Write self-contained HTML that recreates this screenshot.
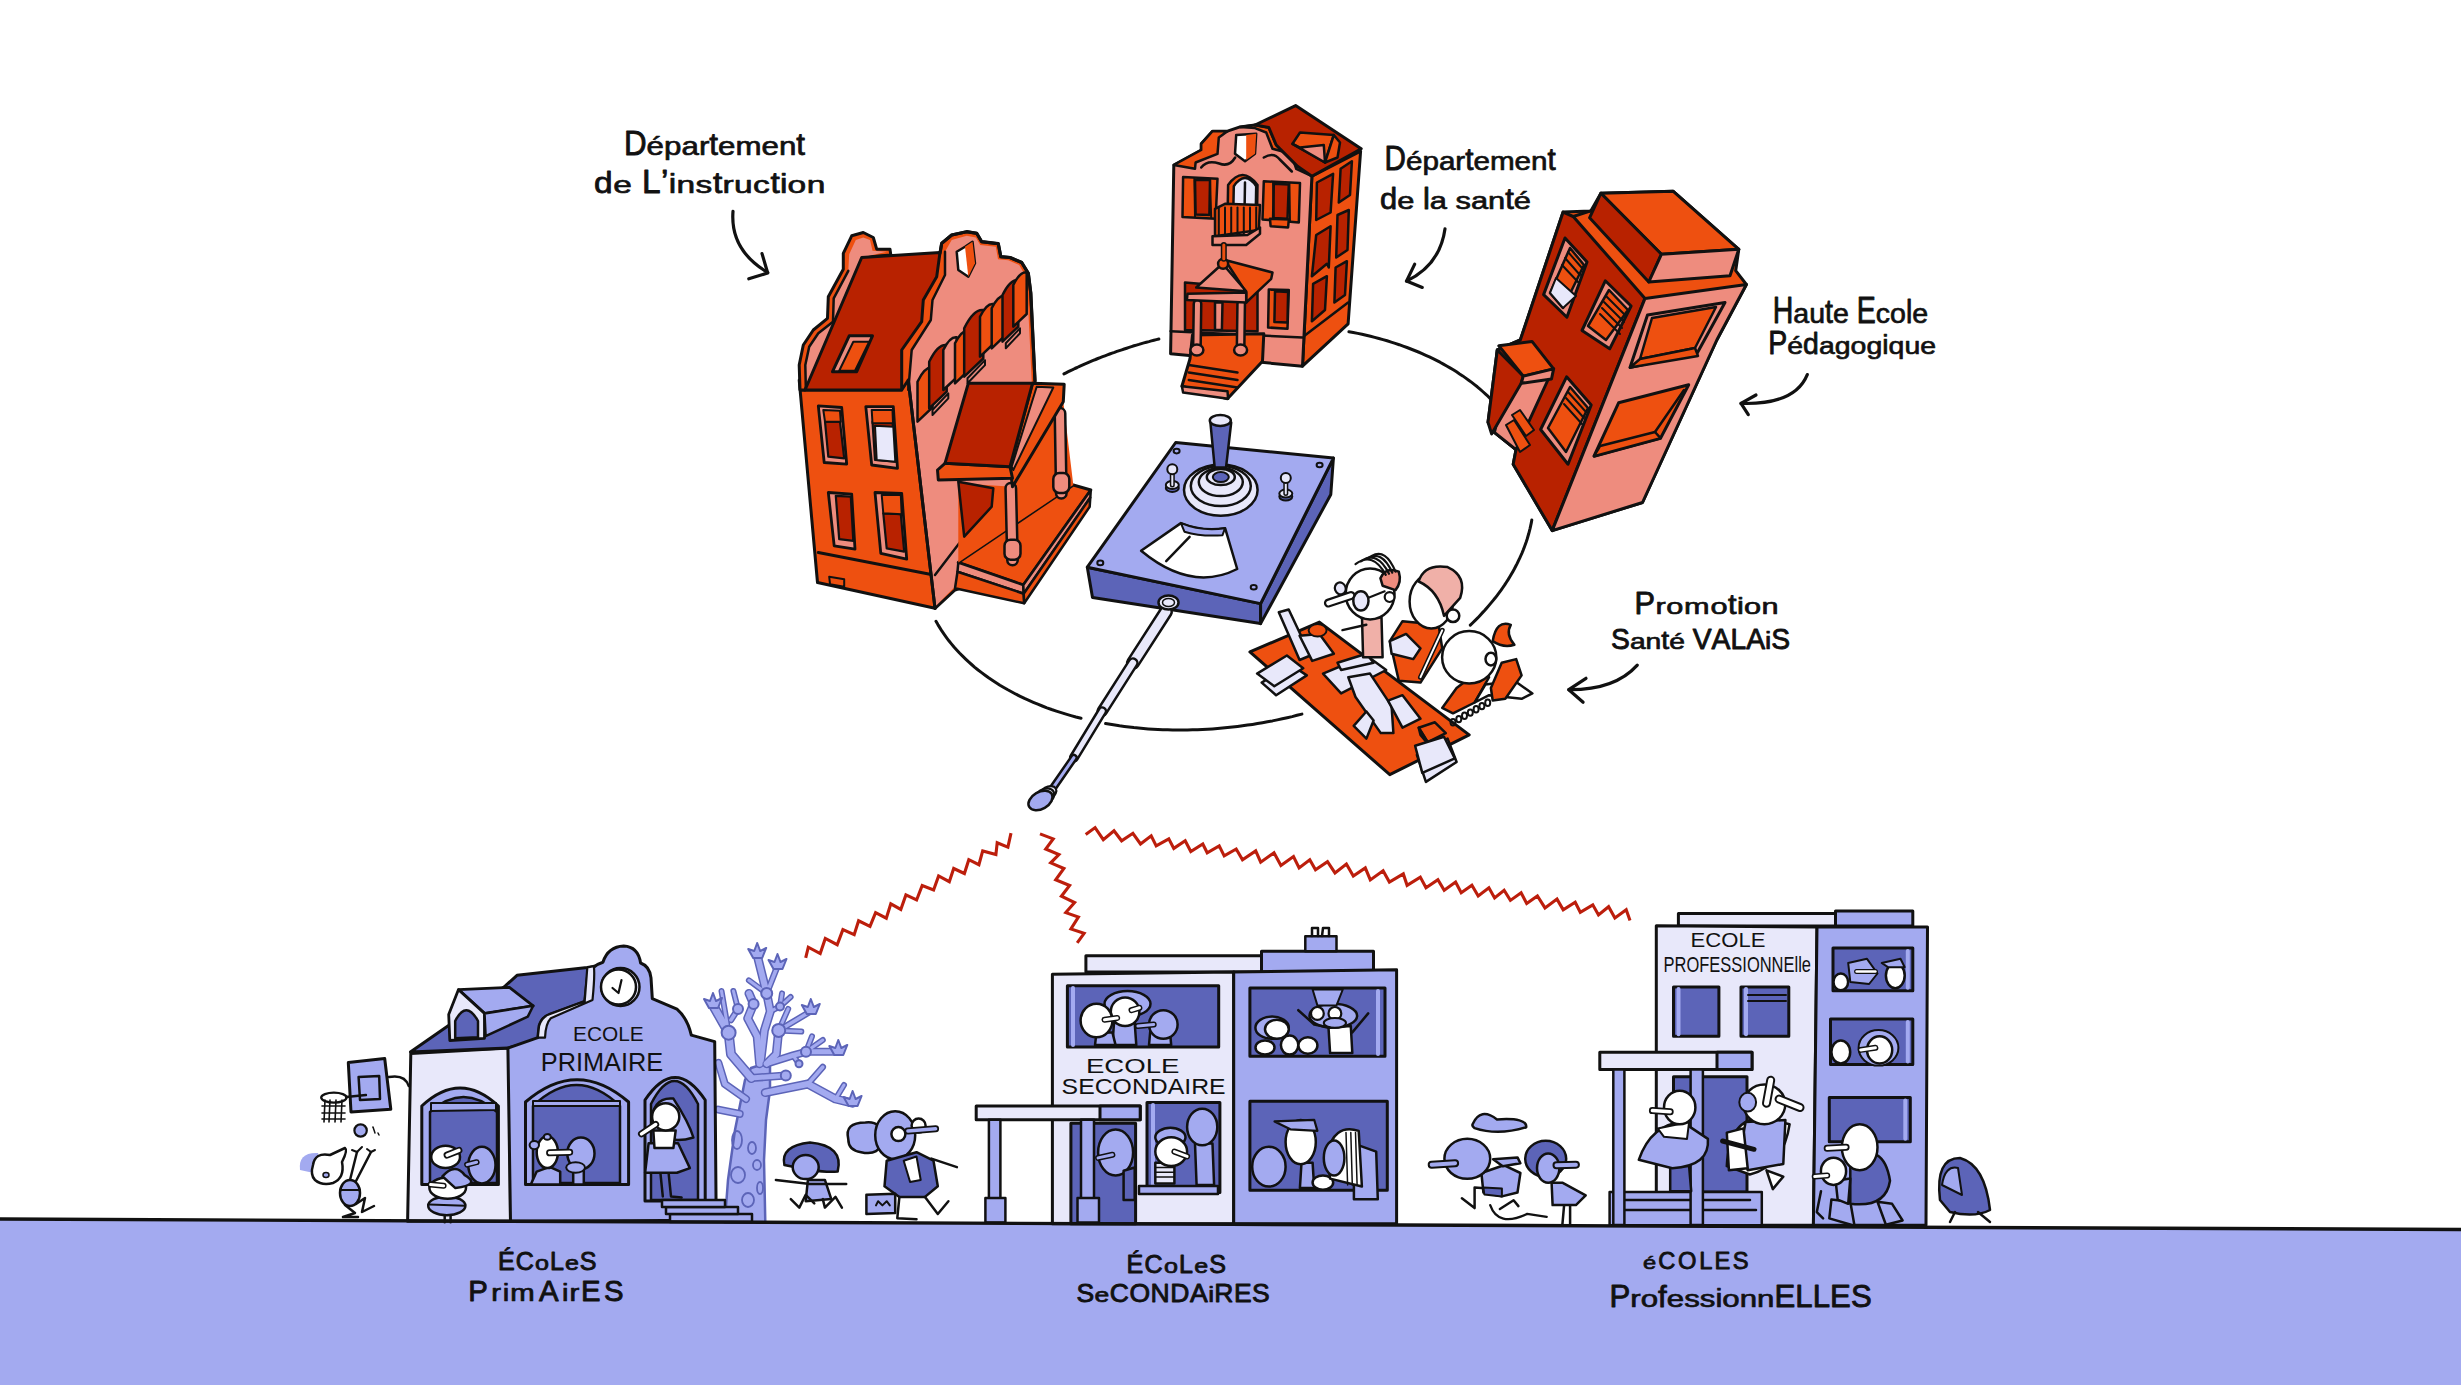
<!DOCTYPE html>
<html><head><meta charset="utf-8">
<style>
html,body{margin:0;padding:0;background:#fff;width:2461px;height:1385px;overflow:hidden}
svg{display:block}
</style></head><body>
<svg width="2461" height="1385" viewBox="0 0 2461 1385" stroke-linejoin="round" stroke-linecap="round">
<path d="M0 1219 L1230 1224.3 L2461 1229.5 L2461 1385 L0 1385 Z" fill="#A3AAF0"/>

<polyline points="1063.9,373.9 1066.1,372.8 1068.3,371.7 1070.5,370.6 1072.7,369.6 1074.9,368.5 1077.2,367.5 1079.5,366.4 1081.7,365.4 1084.0,364.4 1086.3,363.4 1088.6,362.4 1090.9,361.4 1093.2,360.4 1095.6,359.5 1097.9,358.5 1100.3,357.6 1102.6,356.7 1105.0,355.8 1107.4,354.9 1109.7,354.0 1112.1,353.1 1114.5,352.3 1116.9,351.4 1119.4,350.6 1121.8,349.8 1124.2,349.0 1126.7,348.2 1129.1,347.4 1131.5,346.6 1134.0,345.8 1136.5,345.1 1138.9,344.4 1141.4,343.6 1143.9,342.9 1146.4,342.2 1148.9,341.6 1151.4,340.9 1153.9,340.2 1156.4,339.6 1158.9,339.0" fill="none" stroke="#111" stroke-width="3"/>
<polyline points="1348.9,331.7 1353.3,332.5 1357.7,333.4 1362.0,334.3 1366.2,335.3 1370.5,336.3 1374.7,337.4 1378.9,338.5 1383.0,339.6 1387.1,340.8 1391.2,342.1 1395.2,343.4 1399.2,344.7 1403.1,346.1 1407.0,347.5 1410.8,349.0 1414.6,350.5 1418.4,352.0 1422.1,353.6 1425.8,355.3 1429.4,356.9 1433.0,358.7 1436.5,360.4 1440.0,362.2 1443.4,364.1 1446.7,366.0 1450.0,367.9 1453.3,369.8 1456.5,371.8 1459.6,373.9 1462.7,375.9 1465.8,378.1 1468.7,380.2 1471.7,382.4 1474.5,384.6 1477.3,386.8 1480.0,389.1 1482.7,391.5 1485.3,393.8 1487.9,396.2 1490.3,398.6" fill="none" stroke="#111" stroke-width="3"/>
<polyline points="1531.8,520.1 1531.3,522.9 1530.7,525.6 1530.1,528.3 1529.4,531.1 1528.7,533.8 1527.9,536.5 1527.1,539.2 1526.2,542.0 1525.2,544.7 1524.2,547.4 1523.2,550.1 1522.1,552.8 1520.9,555.5 1519.7,558.2 1518.4,560.9 1517.1,563.6 1515.7,566.3 1514.3,569.0 1512.8,571.7 1511.3,574.3 1509.7,577.0 1508.1,579.6 1506.4,582.2 1504.7,584.9 1502.9,587.5 1501.1,590.1 1499.2,592.7 1497.2,595.3 1495.3,597.8 1493.2,600.4 1491.1,602.9 1489.0,605.4 1486.8,608.0 1484.6,610.5 1482.3,612.9 1480.0,615.4 1477.7,617.9 1475.2,620.3 1472.8,622.7 1470.3,625.1" fill="none" stroke="#111" stroke-width="3"/>
<polyline points="1301.9,714.1 1297.0,715.3 1292.1,716.6 1287.2,717.7 1282.3,718.8 1277.3,719.9 1272.4,720.9 1267.4,721.8 1262.5,722.7 1257.5,723.6 1252.5,724.4 1247.5,725.1 1242.5,725.8 1237.5,726.5 1232.5,727.1 1227.5,727.6 1222.5,728.1 1217.5,728.5 1212.4,728.9 1207.4,729.2 1202.4,729.5 1197.5,729.7 1192.5,729.8 1187.5,729.9 1182.5,730.0 1177.6,730.0 1172.6,729.9 1167.7,729.8 1162.8,729.7 1157.9,729.5 1153.0,729.2 1148.2,728.9 1143.4,728.5 1138.5,728.0 1133.8,727.6 1129.0,727.0 1124.3,726.4 1119.5,725.8 1114.9,725.1 1110.2,724.3 1105.6,723.5" fill="none" stroke="#111" stroke-width="3"/>
<polyline points="1081.0,718.3 1075.9,717.0 1071.0,715.6 1066.0,714.1 1061.2,712.6 1056.4,711.1 1051.6,709.5 1046.9,707.8 1042.3,706.0 1037.8,704.2 1033.3,702.3 1028.9,700.4 1024.5,698.4 1020.2,696.3 1016.0,694.2 1011.9,692.0 1007.8,689.8 1003.8,687.5 999.9,685.2 996.1,682.8 992.3,680.3 988.6,677.8 985.1,675.2 981.6,672.6 978.1,670.0 974.8,667.3 971.6,664.5 968.4,661.7 965.4,658.8 962.4,655.9 959.5,653.0 956.7,650.0 954.0,647.0 951.4,643.9 948.9,640.8 946.5,637.6 944.2,634.4 942.0,631.2 939.9,627.9 937.9,624.6 936.0,621.3" fill="none" stroke="#111" stroke-width="3"/>

<g fill="none" stroke="#BC1E0C" stroke-width="3.1" stroke-linejoin="miter" stroke-linecap="butt">
<path d="M805.7 957.9 L808.3 947.2 L820.2 953.5 L825.3 938.4 L837.2 944.7 L842.9 929.6 L854.2 934.6 L858.6 920.8 L870.0 926.4 L875.6 912.6 L886.3 918.2 L890.8 903.8 L900.8 909.4 L905.9 894.9 L916.6 900.0 L922.2 885.5 L933.6 889.9 L938.6 876.0 L949.3 881.7 L953.7 868.5 L964.4 873.5 L968.8 859.7 L978.9 864.7 L982.7 850.9 L995.9 854.6 L997.2 842.7 L1007.9 847.1 L1011.0 833.2"/>
<path d="M1040.0 833.9 L1053.2 838.9 L1045.7 849.0 L1058.9 854.6 L1050.7 862.8 L1063.9 868.5 L1055.7 879.8 L1069.6 885.5 L1061.4 896.2 L1074.6 902.5 L1065.8 912.6 L1078.4 917.0 L1070.9 928.9 L1084.1 933.4 L1077.2 942.8"/>
<path d="M1085.7 834.5 L1095.1 827.6 L1103.3 839.6 L1114.0 830.7 L1121.6 840.8 L1132.9 833.3 L1140.5 844.0 L1151.2 835.8 L1156.2 845.9 L1168.8 838.9 L1173.8 848.4 L1185.2 840.8 L1190.8 851.5 L1202.8 844.0 L1207.2 852.8 L1219.2 845.9 L1224.2 855.9 L1236.2 849.0 L1242.5 859.7 L1255.7 850.9 L1260.7 862.2 L1274.0 852.8 L1280.9 865.4 L1293.5 856.6 L1299.1 867.9 L1309.8 859.7 L1315.5 869.8 L1327.5 861.6 L1335.0 872.9 L1346.4 864.1 L1353.3 876.1 L1365.3 867.9 L1370.3 879.9 L1383.1 870.8 L1389.4 882.1 L1403.3 873.9 L1407.1 885.3 L1420.3 877.1 L1426.0 887.8 L1437.9 879.6 L1444.2 890.3 L1455.6 882.1 L1461.2 892.8 L1471.9 885.3 L1478.2 896.0 L1488.9 887.8 L1494.6 897.9 L1504.1 890.3 L1510.4 900.4 L1521.1 892.8 L1526.7 903.5 L1537.4 896.0 L1545.0 907.9 L1557.0 899.1 L1563.2 909.8 L1575.2 902.3 L1580.3 912.3 L1592.8 904.8 L1598.5 914.9 L1608.6 906.7 L1614.9 918.0 L1626.2 909.8 L1630.0 920.5"/>
</g>

<g id="b1">
<polygon points="940.0,253.3 941.7,243.3 951.7,235.0 966.7,231.7 976.7,233.3 981.7,241.7 998.3,243.7 1000.8,256.7 1010.0,257.5 1021.7,262.5 1028.3,273.3 1030.8,293.3 1035.0,380.8 1040.0,470.0 1045.0,560.0 955.0,590.0 935.0,608.3" fill="#EE5010" stroke="#111" stroke-width="3"/>
<polygon points="945.0,251.7 951.7,240.0 966.7,235.8 975.8,237.5 980.3,245.0 995.8,246.7 998.0,259.2 1008.3,260.3 1019.2,265.0 1025.0,275.0 1027.5,293.3 1031.7,380.8 1028.0,470.0 1040.0,560.0 953.3,588.3 935.0,606.7 908.3,380.0 908.3,390.0 911.7,350.0 930.8,320.0 932.5,300.0 945.0,275.0" fill="#EE8C7E"/>
<polygon points="940.0,252.5 936.7,276.7 923.3,300.0 921.7,321.7 901.7,350.0 901.7,390.0 908.3,390.0 911.7,350.0 930.8,320.0 932.5,300.0 945.0,275.0 945.0,251.7" fill="#EE5010"/>
<polygon points="800.0,390.0 901.7,390.0 908.3,380.0 935.0,608.3 817.5,582.5 799.2,380.0" fill="#EE5010" stroke="#111" stroke-width="3"/>
<polygon points="800.0,390.0 799.2,365.0 803.3,345.0 813.3,330.0 827.5,318.3 828.3,296.7 843.3,269.2 843.3,253.3 851.7,235.8 863.3,232.5 873.3,237.5 876.7,249.2 890.0,249.2 890.8,255.0 861.7,257.5 805.0,390.0" fill="#EE5010" stroke="#111" stroke-width="3"/>
<polygon points="805.8,386.7 805.3,365.0 809.2,346.7 818.3,333.3 833.0,321.7 833.7,298.3 848.3,270.8 849.2,254.2 855.8,240.0 863.3,237.5 870.0,240.0 872.5,250.8 886.7,251.7 861.7,257.5 805.0,390.0" fill="#EE8C7E"/>
<polygon points="805.0,390.0 861.7,257.5 940.0,252.5 936.7,276.7 923.3,300.0 921.7,321.7 901.7,350.0 901.7,390.0" fill="#B82200" stroke="#111" stroke-width="3"/>
<polygon points="849.2,335.8 872.5,335.8 856.7,371.7 832.5,371.7" fill="#EE8C7E" stroke="#111" stroke-width="3"/>
<polygon points="853.3,341.7 869.2,341.7 855.0,370.8 839.2,370.8" fill="#EE5010" stroke="#111" stroke-width="2"/>
<polyline points="940.0,253.3 941.7,243.3 951.7,235.0 966.7,231.7 976.7,233.3 981.7,241.7 998.3,243.7 1000.8,256.7 1010.0,257.5 1021.7,262.5 1028.3,273.3 1030.8,293.3 1035.0,380.8" fill="none" stroke="#111" stroke-width="3.2"/>
<polyline points="945.0,251.7 945.0,275.0 932.5,300.0 930.8,320.0 911.7,350.0 908.3,390.0" fill="none" stroke="#111" stroke-width="2.5"/>
<polyline points="908.3,380.0 935.0,608.3" fill="none" stroke="#111" stroke-width="3"/>
<polyline points="848.3,270.8 833.7,298.3 833.0,321.7 818.3,333.3 809.2,346.7 805.3,365.0 805.8,386.7" fill="none" stroke="#111" stroke-width="2.5"/>
<polygon points="956.7,251.7 965.0,246.7 972.5,241.7 975.0,263.3 968.3,276.7 958.3,270.0" fill="#fff" stroke="#111" stroke-width="2.5"/>
<polygon points="965.0,246.7 972.5,241.7 975.0,263.3 968.3,276.7" fill="#EE5010"/>
<path d="M917.5 421.7 L917.5 381.7 Q925.0 366.3 932.5 367.4 L932.5 407.4 Z" fill="#EE5010" stroke="#111" stroke-width="2.5"/>
<path d="M929.2 408.3 L929.2 361.7 Q937.9 343.7 946.7 345.0 L946.7 391.7 Z" fill="#B82200" stroke="#111" stroke-width="2.5"/>
<path d="M943.3 390.0 L943.3 350.0 Q950.0 336.3 956.7 337.3 L956.7 377.3 Z" fill="#EE8C7E" stroke="#111" stroke-width="2.5"/>
<polygon points="932.5,410.0 948.3,393.4 948.3,398.4 932.5,415.0" fill="#EE8C7E" stroke="#111" stroke-width="2"/>
<path d="M955.0 383.3 L955.0 343.3 Q961.7 329.7 968.3 330.7 L968.3 370.7 Z" fill="#EE5010" stroke="#111" stroke-width="2.5"/>
<path d="M964.2 376.7 L964.2 328.3 Q973.8 308.7 983.3 310.1 L983.3 358.5 Z" fill="#B82200" stroke="#111" stroke-width="2.5"/>
<path d="M980.0 356.7 L980.0 316.7 Q986.7 303.0 993.3 304.0 L993.3 344.0 Z" fill="#EE5010" stroke="#111" stroke-width="2.5"/>
<polygon points="967.5,378.3 985.0,360.1 985.0,365.1 967.5,383.3" fill="#EE8C7E" stroke="#111" stroke-width="2"/>
<path d="M991.7 348.3 L991.7 308.3 Q998.3 294.7 1005.0 295.7 L1005.0 335.7 Z" fill="#EE5010" stroke="#111" stroke-width="2.5"/>
<path d="M1002.5 341.7 L1002.5 295.0 Q1010.4 278.8 1018.3 280.0 L1018.3 326.6 Z" fill="#B82200" stroke="#111" stroke-width="2.5"/>
<path d="M1013.3 326.7 L1013.3 285.0 Q1020.0 271.3 1026.7 272.3 L1026.7 314.0 Z" fill="#EE5010" stroke="#111" stroke-width="2.5"/>
<polygon points="1005.8,343.3 1020.0,328.3 1020.0,333.3 1005.8,348.3" fill="#EE8C7E" stroke="#111" stroke-width="2"/>
<polygon points="818.3,405.8 841.7,407.5 846.7,464.2 824.2,462.5" fill="#EE8C7E" stroke="#111" stroke-width="2.8"/>
<polygon points="825.0,421.7 840.0,421.7 844.2,458.3 828.3,456.7" fill="#B82200" stroke="#111" stroke-width="2.2"/>
<polygon points="823.3,410.0 840.0,410.8 840.8,421.7 825.0,421.7" fill="#EE5010" stroke="#111" stroke-width="2"/>
<polygon points="865.8,406.7 893.3,406.7 897.5,468.3 871.7,465.0" fill="#EE8C7E" stroke="#111" stroke-width="2.8"/>
<polygon points="872.5,421.7 892.5,421.7 895.8,461.7 875.0,460.0" fill="#B82200" stroke="#111" stroke-width="2.2"/>
<polygon points="875.0,425.8 893.3,426.7 895.3,461.7 876.7,460.0" fill="#E8E8FA" stroke="#111" stroke-width="2"/>
<polygon points="871.7,410.0 892.5,410.0 893.0,423.3 872.5,423.3" fill="#EE5010" stroke="#111" stroke-width="2"/>
<polygon points="828.3,492.5 851.7,494.2 855.0,549.2 834.2,545.8" fill="#EE8C7E" stroke="#111" stroke-width="2.8"/>
<polygon points="835.8,495.8 850.8,496.7 853.3,540.8 839.2,539.2" fill="#B82200" stroke="#111" stroke-width="2.2"/>
<polygon points="875.0,492.5 901.7,493.3 906.7,559.2 880.8,553.3" fill="#EE8C7E" stroke="#111" stroke-width="2.8"/>
<polygon points="883.3,513.3 900.8,514.2 904.2,551.7 886.7,548.3" fill="#B82200" stroke="#111" stroke-width="2.2"/>
<polygon points="881.7,495.0 900.8,495.0 901.7,514.2 883.3,513.3" fill="#EE5010" stroke="#111" stroke-width="2"/>
<polyline points="818.3,552.5 930.0,574.2" fill="none" stroke="#111" stroke-width="3"/>
<polyline points="935.0,575.0 964.2,536.7" fill="none" stroke="#111" stroke-width="2.5"/>
<polygon points="829.2,576.7 844.2,579.2 844.2,586.7 830.0,584.2" fill="#EE5010" stroke="#111" stroke-width="2"/>
<polygon points="958.3,562.5 1073.3,485.0 1090.8,490.0 1023.3,585.0" fill="#EE5010" stroke="#111" stroke-width="3"/>
<polygon points="958.3,562.5 1023.3,585.0 1023.7,593.7 957.5,571.7" fill="#EE8C7E" stroke="#111" stroke-width="2.5"/>
<polygon points="957.5,571.7 1023.7,593.7 1024.2,603.3 955.0,588.3" fill="#EE5010" stroke="#111" stroke-width="2.5"/>
<polygon points="1023.3,585.0 1090.8,490.0 1090.3,497.5 1023.7,593.7" fill="#EE8C7E" stroke="#111" stroke-width="2.5"/>
<polygon points="1023.7,593.7 1090.3,497.5 1089.7,506.7 1024.2,603.3" fill="#EE5010" stroke="#111" stroke-width="2.5"/>
<polygon points="958.3,483.3 1012.5,486.7 1063.3,401.7 1073.3,485.0 958.3,562.5" fill="#EE5010"/>
<polygon points="958.3,481.7 993.3,488.3 991.7,506.7 964.2,536.7" fill="#B82200" stroke="#111" stroke-width="2.5"/>
<polyline points="1010.8,488.3 1012.5,560.0" fill="none" stroke="#111" stroke-width="13"/>
<polyline points="1010.8,488.3 1012.5,560.0" fill="none" stroke="#EE8C7E" stroke-width="8"/>
<rect x="1004.5" y="539.7" width="16" height="20" rx="6" fill="#EE8C7E" stroke="#111" stroke-width="2.5"/>
<polyline points="1060.0,413.3 1061.3,493.3" fill="none" stroke="#111" stroke-width="13"/>
<polyline points="1060.0,413.3 1061.3,493.3" fill="none" stroke="#EE8C7E" stroke-width="8"/>
<rect x="1053.3" y="473.0" width="16" height="20" rx="6" fill="#EE8C7E" stroke="#111" stroke-width="2.5"/>
<polygon points="1032.5,383.3 1064.2,384.2 1063.3,401.7 1012.5,486.7 1010.0,466.7" fill="#EE5010" stroke="#111" stroke-width="3"/>
<polygon points="1036.7,386.7 1053.3,387.5 1013.3,470.0 1011.7,466.7" fill="#EE8C7E" stroke="#111" stroke-width="2"/>
<polygon points="937.5,470.0 945.0,463.3 1010.0,466.7 1012.5,478.3 938.3,480.0" fill="#EE5010" stroke="#111" stroke-width="3"/>
<polygon points="968.3,383.3 1032.5,383.3 1010.0,466.7 945.0,463.3" fill="#B82200" stroke="#111" stroke-width="3"/>
</g>

<g id="b2">
<polygon points="1311.9,176.2 1360.6,151.2 1348.1,323.8 1302.5,366.2" fill="#EE5010" stroke="#111" stroke-width="3" />
<polyline points="1303.8,336.2 1348.1,302.5" fill="none" stroke="#111" stroke-width="2.5"/>
<polygon points="1316.9,182.5 1333.1,173.8 1330.6,212.5 1316.2,220.0" fill="#B82200" stroke="#111" stroke-width="2.5" />
<polygon points="1340.6,168.8 1351.9,161.2 1350.0,195.0 1338.8,202.5" fill="#B82200" stroke="#111" stroke-width="2.5" />
<polygon points="1316.2,235.0 1330.6,226.2 1328.8,267.5 1326.9,263.8 1311.9,276.2" fill="#B82200" stroke="#111" stroke-width="2.5" />
<polygon points="1337.5,215.0 1348.8,210.0 1347.5,250.0 1336.2,257.5" fill="#B82200" stroke="#111" stroke-width="2.5" />
<polygon points="1313.1,283.8 1326.9,276.2 1325.0,310.0 1311.9,321.2" fill="#B82200" stroke="#111" stroke-width="2.5" />
<polygon points="1335.6,267.5 1346.9,261.2 1345.0,295.0 1334.4,302.5" fill="#B82200" stroke="#111" stroke-width="2.5" />
<polygon points="1173.8,165.0 1201.2,150.0 1201.2,143.8 1212.5,131.2 1227.5,131.2 1240.0,126.9 1255.0,125.0 1268.8,127.5 1276.2,145.0 1297.5,166.2 1311.2,168.8 1311.9,176.2 1302.5,366.2 1170.6,353.8" fill="#EE8C7E" stroke="#111" stroke-width="3" />
<polygon points="1173.8,165.0 1201.2,150.0 1201.2,143.8 1212.5,131.2 1227.5,131.2 1218.8,137.5 1217.5,153.8 1195.6,162.5 1195.0,168.8" fill="#EE5010" stroke="#111" stroke-width="2.5" />
<polygon points="1240.0,126.9 1255.0,125.0 1268.8,127.5 1276.2,145.0 1297.5,166.2 1311.2,168.8 1311.9,176.2 1296.2,168.8 1291.2,153.8 1272.5,148.8 1266.2,132.5 1255.0,128.1" fill="#EE5010" stroke="#111" stroke-width="2.5" />
<polygon points="1255.0,125.0 1295.6,105.6 1361.2,148.8 1311.9,176.2 1297.5,166.2 1276.2,145.0 1268.8,127.5" fill="#B82200" stroke="#111" stroke-width="3" />
<polygon points="1292.5,143.8 1300.0,132.5 1333.8,135.0 1325.0,162.5" fill="#EE5010" stroke="#111" stroke-width="2.5" />
<polygon points="1292.5,143.8 1325.0,162.5 1323.8,145.0 1300.0,147.5" fill="#EE8C7E" stroke="#111" stroke-width="2.5" />
<polygon points="1325.0,162.5 1333.8,135.0 1340.0,142.5 1337.5,157.5" fill="#EE5010" stroke="#111" stroke-width="2.5" />
<polygon points="1236.2,135.0 1256.2,133.8 1255.0,153.8 1245.0,161.2 1235.0,153.8" fill="#fff" stroke="#111" stroke-width="2.5" />
<polygon points="1246.2,135.0 1256.2,133.8 1255.0,153.8 1246.2,160.0" fill="#EE5010" />
<path d="M1201.2 167.5 q 6 -8 18 -4 q 10 4 16 -6" fill="none" stroke="#111" stroke-width="2.5"/>
<path d="M1263.8 157.5 q 10 -6 16 2 q 8 8 12 12" fill="none" stroke="#111" stroke-width="2.5"/>
<polygon points="1183.1,176.9 1217.5,178.8 1215.6,218.8 1182.5,216.9" fill="#EE5010" stroke="#111" stroke-width="2.5" />
<polygon points="1195.0,180.0 1210.0,180.0 1209.4,215.0 1195.6,214.4" fill="#B82200" stroke="#111" stroke-width="2.5" />
<polyline points="1194.4,178.8 1195.0,216.9" fill="none" stroke="#111" stroke-width="2"/>
<polyline points="1210.0,179.4 1211.2,218.1" fill="none" stroke="#111" stroke-width="2"/>
<polygon points="1263.8,181.2 1300.0,183.1 1298.8,222.5 1262.5,219.4" fill="#EE5010" stroke="#111" stroke-width="2.5" />
<polygon points="1273.8,183.8 1288.8,184.4 1287.5,218.8 1273.1,218.1" fill="#B82200" stroke="#111" stroke-width="2.5" />
<polyline points="1273.1,181.9 1273.8,220.0" fill="none" stroke="#111" stroke-width="2"/>
<polyline points="1289.4,183.1 1290.0,221.9" fill="none" stroke="#111" stroke-width="2"/>
<polygon points="1270.0,218.8 1288.8,219.4 1288.1,227.5 1270.6,226.2" fill="#EE5010" stroke="#111" stroke-width="2.5" />
<path d="M1227.5 220.0 L1228.1 185.0 Q1242.5 165.0 1257.5 185.0 L1256.9 220.0 Z" fill="#EE5010" stroke="#111" stroke-width="2.5"/>
<path d="M1233.1 220.0 L1233.8 186.2 Q1245.0 170.0 1256.2 186.2 L1255.6 220.0 Z" fill="#E8E8FA" stroke="#111" stroke-width="2.5"/>
<polyline points="1245.0,182.5 1244.4,220.0" fill="none" stroke="#111" stroke-width="2.5"/>
<polygon points="1215.0,208.8 1225.0,203.8 1260.0,205.0 1258.8,230.0 1215.0,236.2" fill="#EE5010" stroke="#111" stroke-width="2.5" />
<polyline points="1218.8,207.5 1218.8,235.0" fill="none" stroke="#111" stroke-width="2"/>
<polyline points="1225.0,207.5 1225.0,235.0" fill="none" stroke="#111" stroke-width="2"/>
<polyline points="1231.2,207.5 1231.2,235.0" fill="none" stroke="#111" stroke-width="2"/>
<polyline points="1237.5,207.5 1237.5,235.0" fill="none" stroke="#111" stroke-width="2"/>
<polyline points="1243.8,207.5 1243.8,235.0" fill="none" stroke="#111" stroke-width="2"/>
<polyline points="1250.0,207.5 1250.0,235.0" fill="none" stroke="#111" stroke-width="2"/>
<polyline points="1256.2,207.5 1256.2,235.0" fill="none" stroke="#111" stroke-width="2"/>
<polygon points="1212.5,236.2 1247.5,235.0 1260.0,227.5 1260.0,233.8 1246.2,245.0 1212.5,245.0" fill="#EE8C7E" stroke="#111" stroke-width="2.5" />
<polyline points="1170.6,331.2 1302.5,337.5" fill="none" stroke="#111" stroke-width="2.5"/>
<polygon points="1185.0,282.5 1257.5,288.8 1257.5,331.2 1185.0,330.0" fill="#B82200" stroke="#111" stroke-width="2.5" />
<polygon points="1215.0,302.5 1222.5,302.5 1221.9,330.0 1215.0,330.0" fill="#EE8C7E" stroke="#111" stroke-width="2.5" />
<polygon points="1268.8,289.4 1288.8,290.0 1287.5,328.8 1268.1,327.5" fill="#EE5010" stroke="#111" stroke-width="2.5" />
<polygon points="1275.0,291.2 1288.1,291.9 1287.5,322.5 1274.4,321.9" fill="#B82200" stroke="#111" stroke-width="2.5" />
<polygon points="1181.9,386.2 1190.0,358.8 1192.5,335.0 1263.8,333.8 1262.5,361.2 1227.5,398.8" fill="#EE5010" stroke="#111" stroke-width="3" />
<polyline points="1188.8,365.0 1237.5,372.5" fill="none" stroke="#111" stroke-width="2.5"/>
<polyline points="1188.8,372.5 1237.5,380.0" fill="none" stroke="#111" stroke-width="2.5"/>
<polyline points="1188.8,380.0 1237.5,387.5" fill="none" stroke="#111" stroke-width="2.5"/>
<polygon points="1181.9,386.2 1227.5,391.2 1228.1,398.8 1183.1,392.5" fill="#EE8C7E" stroke="#111" stroke-width="2.5" />
<polyline points="1197.5,303.8 1196.9,347.5" fill="none" stroke="#111" stroke-width="10"/>
<polyline points="1197.5,303.8 1196.9,347.5" fill="none" stroke="#EE8C7E" stroke-width="5"/>
<ellipse cx="1196.9" cy="350.0" rx="6.5" ry="5.5" fill="#EE8C7E" stroke="#111" stroke-width="2.5"/>
<polyline points="1241.2,303.8 1240.6,347.5" fill="none" stroke="#111" stroke-width="10"/>
<polyline points="1241.2,303.8 1240.6,347.5" fill="none" stroke="#EE8C7E" stroke-width="5"/>
<ellipse cx="1240.6" cy="350.0" rx="6.5" ry="5.5" fill="#EE8C7E" stroke="#111" stroke-width="2.5"/>
<polygon points="1225.0,260.0 1272.5,272.5 1271.2,278.8 1246.2,302.5 1246.2,292.5" fill="#EE5010" stroke="#111" stroke-width="2.5" />
<polygon points="1187.5,293.8 1246.2,292.5 1246.2,302.5 1186.9,300.0" fill="#EE8C7E" stroke="#111" stroke-width="2.5" />
<polygon points="1196.2,287.5 1222.5,263.8 1246.2,291.2" fill="#EE8C7E" stroke="#111" stroke-width="2.5" />
<circle cx="1223.1" cy="263.8" r="5" fill="#EE5010" stroke="#111" stroke-width="2.5"/>
<polyline points="1223.8,258.8 1223.8,245.0" fill="none" stroke="#111" stroke-width="6"/>
<polyline points="1223.8,258.8 1223.8,245.0" fill="none" stroke="#EE5010" stroke-width="3"/>
</g>

<g id="b3">
<polygon points="1563.1,212.1 1590.8,210.9 1600.9,193.2 1673.3,191.3 1738.8,249.3 1735.7,270.7 1746.4,284.5 1716.8,340.0 1642.5,502.5 1552.2,530.6 1513.2,464.2 1516.0,449.7 1494.4,432.4 1488.0,422.3 1497.3,350.0 1520.3,340.0" fill="#EE5010" stroke="#111" stroke-width="3" />
<polygon points="1563.1,212.1 1573.2,216.5 1645.0,298.4 1552.2,530.6 1513.2,464.2 1516.0,449.7 1494.4,432.4 1497.3,350.0 1520.3,340.0" fill="#B82200" stroke="#111" stroke-width="3" />
<polygon points="1645.0,298.4 1746.4,284.5 1716.8,340.0 1642.5,502.5 1552.2,530.6" fill="#EE8C7E" stroke="#111" stroke-width="3" />
<polyline points="1573.2,216.5 1590.8,210.9" fill="none" stroke="#111" stroke-width="3"/>
<polygon points="1600.9,193.2 1673.3,191.3 1738.8,249.3 1661.4,254.3" fill="#EE5010" stroke="#111" stroke-width="3" />
<polygon points="1600.9,193.2 1589.6,217.8 1648.8,282.0 1661.4,254.3" fill="#B82200" stroke="#111" stroke-width="3" />
<polygon points="1661.4,254.3 1738.8,249.3 1730.0,275.7 1648.8,282.0" fill="#EE8C7E" stroke="#111" stroke-width="3" />
<polygon points="1647.5,315.0 1725.0,302.5 1697.5,352.5 1630.0,367.5" fill="#EE8C7E" stroke="#111" stroke-width="3" />
<polygon points="1652.0,318.0 1716.0,307.0 1695.0,348.0 1640.0,359.0" fill="#EE5010" stroke="#111" stroke-width="2.5" />
<polygon points="1630.0,367.5 1640.0,359.0 1695.0,348.0 1698.0,355.9" fill="#EE5010" stroke="#111" stroke-width="2.5" />
<polygon points="1618.6,402.8 1688.7,384.8 1660.5,438.2 1594.0,456.2" fill="#EE5010" stroke="#111" stroke-width="3" />
<polygon points="1594.0,456.2 1600.0,446.0 1655.0,432.0 1660.5,438.2" fill="#EE5010" stroke="#111" stroke-width="2.5" />
<polyline points="1655.0,432.0 1684.0,390.0" fill="none" stroke="#111" stroke-width="2.5"/>
<polygon points="1565.0,238.0 1587.0,261.9 1566.9,317.3 1543.6,294.6" fill="#EE8C7E" stroke="#111" stroke-width="3" />
<polygon points="1570.0,248.0 1584.0,265.0 1563.0,308.0 1550.0,293.0" fill="#EE5010" stroke="#111" stroke-width="2.5" />
<polygon points="1556.0,278.0 1576.0,296.0 1563.0,308.0 1550.0,293.0" fill="#E8E8FA" stroke="#111" stroke-width="2" />
<polyline points="1568.0,252.0 1582.0,268.0" fill="none" stroke="#111" stroke-width="2"/>
<polyline points="1565.0,258.0 1580.0,275.0" fill="none" stroke="#111" stroke-width="2"/>
<polyline points="1562.0,265.0 1578.0,282.0" fill="none" stroke="#111" stroke-width="2"/>
<polygon points="1605.3,280.8 1631.1,306.0 1609.7,348.8 1582.0,330.5" fill="#EE8C7E" stroke="#111" stroke-width="3" />
<polygon points="1609.0,290.0 1628.0,310.0 1606.0,340.0 1588.0,326.0" fill="#EE5010" stroke="#111" stroke-width="2.5" />
<polyline points="1606.0,296.0 1626.0,316.0" fill="none" stroke="#111" stroke-width="2"/>
<polyline points="1604.0,302.0 1624.0,322.0" fill="none" stroke="#111" stroke-width="2"/>
<polyline points="1602.0,308.0 1622.0,328.0" fill="none" stroke="#111" stroke-width="2"/>
<polyline points="1600.0,314.0 1620.0,334.0" fill="none" stroke="#111" stroke-width="2"/>
<polygon points="1566.6,376.8 1591.2,405.0 1568.0,464.2 1540.6,429.5" fill="#EE8C7E" stroke="#111" stroke-width="3" />
<polygon points="1570.0,387.0 1588.0,408.0 1566.0,452.0 1548.0,428.0" fill="#EE5010" stroke="#111" stroke-width="2.5" />
<polyline points="1568.0,392.0 1586.0,412.0" fill="none" stroke="#111" stroke-width="2"/>
<polyline points="1566.0,398.0 1584.0,418.0" fill="none" stroke="#111" stroke-width="2"/>
<polyline points="1564.0,404.0 1582.0,424.0" fill="none" stroke="#111" stroke-width="2"/>
<polygon points="1508.9,371.8 1547.9,380.0 1516.0,449.7 1494.4,432.4" fill="#EE8C7E" stroke="#111" stroke-width="3" />
<polygon points="1497.3,350.0 1523.3,376.1 1521.2,383.3 1491.6,433.9 1488.0,422.3" fill="#B82200" stroke="#111" stroke-width="3" />
<polygon points="1498.8,345.8 1532.0,341.4 1553.6,368.9 1523.3,376.1" fill="#EE5010" stroke="#111" stroke-width="3" />
<polygon points="1523.3,376.1 1553.6,368.9 1551.5,379.0 1521.2,383.3" fill="#EE8C7E" stroke="#111" stroke-width="3" />
<polygon points="1506.0,425.0 1514.0,420.0 1530.0,445.0 1520.0,452.0" fill="#EE5010" stroke="#111" stroke-width="2" />
<polygon points="1512.0,415.0 1520.0,410.0 1534.0,430.0 1526.0,436.0" fill="#EE5010" stroke="#111" stroke-width="2" />
</g>

<g id="joy">
<polygon points="1087.3,567.2 1260.6,603.6 1260.6,623.6 1092.5,597.6" fill="#5C64B8" stroke="#111" stroke-width="3" />
<polygon points="1260.6,603.6 1333.4,458.1 1330.8,494.5 1260.6,623.6" fill="#5C64B8" stroke="#111" stroke-width="3" />
<polygon points="1175.7,442.5 1333.4,458.1 1260.6,603.6 1087.3,567.2" fill="#A3AAF0" stroke="#111" stroke-width="3" />
<ellipse cx="1176.6" cy="451.1" rx="3" ry="2.3" fill="#A3AAF0" stroke="#111" stroke-width="2"/>
<ellipse cx="1319.6" cy="465.0" rx="3" ry="2.3" fill="#A3AAF0" stroke="#111" stroke-width="2"/>
<ellipse cx="1100.3" cy="562.9" rx="3" ry="2.3" fill="#A3AAF0" stroke="#111" stroke-width="2"/>
<ellipse cx="1253.7" cy="587.2" rx="3" ry="2.3" fill="#A3AAF0" stroke="#111" stroke-width="2"/>
<ellipse cx="1220.8" cy="490.1" rx="36.8" ry="25.6" fill="#E8E8FA" stroke="#111" stroke-width="2.5"/>
<ellipse cx="1220.8" cy="486.1" rx="30" ry="20" fill="#E8E8FA" stroke="#111" stroke-width="2.5"/>
<ellipse cx="1220.8" cy="482.1" rx="22" ry="14" fill="#E8E8FA" stroke="#111" stroke-width="2.5"/>
<ellipse cx="1220.8" cy="477.1" rx="14" ry="8" fill="#E8E8FA" stroke="#111" stroke-width="2.5"/>
<ellipse cx="1220.8" cy="477.1" rx="8" ry="5" fill="#5C64B8" stroke="#111" stroke-width="2"/>
<polygon points="1210.4,422.5 1231.2,422.5 1226.0,467.6 1214.7,467.6" fill="#5C64B8" stroke="#111" stroke-width="2.5" />
<ellipse cx="1220.3" cy="420.5" rx="10.5" ry="5.5" fill="#E8E8FA" stroke="#111" stroke-width="2.5"/>
<ellipse cx="1172.3" cy="487.9" rx="6.5" ry="4" fill="#5C64B8" stroke="#111" stroke-width="2"/>
<ellipse cx="1172.3" cy="484.9" rx="6.5" ry="4" fill="#E8E8FA" stroke="#111" stroke-width="2"/>
<polyline points="1172.3,484.9 1172.3,469.3" fill="none" stroke="#111" stroke-width="5"/>
<polyline points="1172.3,484.9 1172.3,469.3" fill="none" stroke="#E8E8FA" stroke-width="2"/>
<circle cx="1172.3" cy="469.3" r="5" fill="#E8E8FA" stroke="#111" stroke-width="2"/>
<ellipse cx="1285.8" cy="496.6" rx="6.5" ry="4" fill="#5C64B8" stroke="#111" stroke-width="2"/>
<ellipse cx="1285.8" cy="493.6" rx="6.5" ry="4" fill="#E8E8FA" stroke="#111" stroke-width="2"/>
<polyline points="1285.8,493.6 1285.8,478.0" fill="none" stroke="#111" stroke-width="5"/>
<polyline points="1285.8,493.6 1285.8,478.0" fill="none" stroke="#E8E8FA" stroke-width="2"/>
<circle cx="1285.8" cy="478.0" r="5" fill="#E8E8FA" stroke="#111" stroke-width="2"/>
<path d="M1141.1 550.8 L1180.9 523.1 Q1201.7 531.7 1225.1 528.2 L1237.2 569.0 Q1191.3 592.4 1141.1 550.8 Z" fill="#fff" stroke="#111" stroke-width="2.5"/>
<path d="M1180.9 523.1 L1184.4 531.7 Q1201.7 536.9 1222.5 535.2 L1225.1 528.2 Q1201.7 531.7 1180.9 523.1 Z" fill="#A3AAF0" stroke="#111" stroke-width="2"/>
<polyline points="1166.2,561.2 1189.6,536.9" fill="none" stroke="#111" stroke-width="2.5"/>
</g>

<g id="cable">
<polyline points="1166.0,611.6 1132.9,663.0" fill="none" stroke="#111" stroke-width="14"/>
<polyline points="1166.0,611.6 1132.9,663.0" fill="none" stroke="#E8E8FA" stroke-width="9"/>
<polyline points="1132.9,663.0 1102.2,711.2" fill="none" stroke="#111" stroke-width="11.5"/>
<polyline points="1132.9,663.0 1102.2,711.2" fill="none" stroke="#E8E8FA" stroke-width="6.5"/>
<polyline points="1102.2,711.2 1073.9,757.7" fill="none" stroke="#111" stroke-width="10"/>
<polyline points="1102.2,711.2 1073.9,757.7" fill="none" stroke="#E8E8FA" stroke-width="5"/>
<polyline points="1073.9,757.7 1053.2,787.6" fill="none" stroke="#111" stroke-width="8"/>
<polyline points="1073.9,757.7 1053.2,787.6" fill="none" stroke="#A3AAF0" stroke-width="3"/>
<ellipse cx="1168.5" cy="602.5" rx="10" ry="7" fill="#E8E8FA" stroke="#111" stroke-width="2.5"/>
<ellipse cx="1168.5" cy="602.5" rx="6" ry="4" fill="#E8E8FA" stroke="#111" stroke-width="1.5"/>
<ellipse cx="1048" cy="793" rx="9" ry="6" transform="rotate(-30 1048 793)" fill="#E8E8FA" stroke="#111" stroke-width="2.2"/>
<ellipse cx="1044" cy="797" rx="11" ry="7.5" transform="rotate(-30 1044 797)" fill="#E8E8FA" stroke="#111" stroke-width="2.2"/>
<ellipse cx="1040.5" cy="800.5" rx="13" ry="8.5" transform="rotate(-30 1040.5 800.5)" fill="#A3AAF0" stroke="#111" stroke-width="2.5"/>
</g>
<g id="tree">
<polygon points="724.8,1222.5 728.0,1180.0 735.0,1130.0 741.0,1100.0 745.0,1080.0 751.0,1068.0 770.0,1062.0 770.0,1090.0 766.0,1120.0 764.0,1160.0 765.3,1222.5" fill="#A3AAF0" stroke="#5C64B8" stroke-width="2.5"/>
<polyline points="751.3,1078.0 731.0,1054.2 728.6,1032.7 713.0,1005.3" fill="none" stroke="#5C64B8" stroke-width="10"/>
<polyline points="759.6,1063.7 757.2,1036.3 747.7,1018.4 753.6,1004.0 749.0,993.4" fill="none" stroke="#5C64B8" stroke-width="9"/>
<polyline points="760.8,1060.1 764.4,1030.4 770.3,1011.3 766.7,993.4 757.2,955.3" fill="none" stroke="#5C64B8" stroke-width="9"/>
<polyline points="766.7,993.4 777.5,966.0" fill="none" stroke="#5C64B8" stroke-width="6.5"/>
<polyline points="766.7,993.4 748.9,980.3" fill="none" stroke="#5C64B8" stroke-width="6"/>
<polyline points="770.3,1011.3 780.0,1006.5 790.6,997.0" fill="none" stroke="#5C64B8" stroke-width="6"/>
<polyline points="780.0,1006.5 782.0,993.4" fill="none" stroke="#5C64B8" stroke-width="6"/>
<polyline points="766.7,1063.7 776.3,1054.2 778.7,1030.4" fill="none" stroke="#5C64B8" stroke-width="9"/>
<polyline points="778.7,1030.4 810.8,1011.3" fill="none" stroke="#5C64B8" stroke-width="6.5"/>
<polyline points="778.7,1030.4 801.3,1031.5" fill="none" stroke="#5C64B8" stroke-width="6"/>
<polyline points="778.7,1030.4 788.2,1008.9" fill="none" stroke="#5C64B8" stroke-width="6"/>
<polyline points="766.7,1063.7 793.0,1055.4 806.0,1051.8 838.3,1051.8" fill="none" stroke="#5C64B8" stroke-width="8"/>
<polyline points="806.0,1051.8 812.0,1036.3" fill="none" stroke="#5C64B8" stroke-width="6"/>
<polyline points="806.0,1051.8 822.8,1040.0" fill="none" stroke="#5C64B8" stroke-width="6"/>
<polyline points="793.0,1055.4 799.0,1063.7" fill="none" stroke="#5C64B8" stroke-width="6"/>
<polyline points="765.3,1092.6 807.9,1084.0 835.5,1099.0 852.6,1103.2" fill="none" stroke="#5C64B8" stroke-width="9"/>
<polyline points="807.9,1084.0 822.8,1067.0" fill="none" stroke="#5C64B8" stroke-width="6.5"/>
<polyline points="835.5,1099.0 844.0,1085.0" fill="none" stroke="#5C64B8" stroke-width="6"/>
<polyline points="751.3,1078.0 785.8,1075.6" fill="none" stroke="#5C64B8" stroke-width="8"/>
<polyline points="746.0,1099.0 724.8,1084.0 718.4,1062.8" fill="none" stroke="#5C64B8" stroke-width="8"/>
<polyline points="739.7,1113.9 718.4,1109.6" fill="none" stroke="#5C64B8" stroke-width="8"/>
<polyline points="728.6,1032.7 721.5,991.0" fill="none" stroke="#5C64B8" stroke-width="6"/>
<polyline points="738.0,1009.0 733.4,991.0" fill="none" stroke="#5C64B8" stroke-width="6"/>
<polyline points="731.0,1020.0 738.0,1009.0" fill="none" stroke="#5C64B8" stroke-width="6.5"/>
<polyline points="751.3,1078.0 731.0,1054.2 728.6,1032.7 713.0,1005.3" fill="none" stroke="#A3AAF0" stroke-width="7"/>
<polyline points="759.6,1063.7 757.2,1036.3 747.7,1018.4 753.6,1004.0 749.0,993.4" fill="none" stroke="#A3AAF0" stroke-width="6"/>
<polyline points="760.8,1060.1 764.4,1030.4 770.3,1011.3 766.7,993.4 757.2,955.3" fill="none" stroke="#A3AAF0" stroke-width="6"/>
<polyline points="766.7,993.4 777.5,966.0" fill="none" stroke="#A3AAF0" stroke-width="3.5"/>
<polyline points="766.7,993.4 748.9,980.3" fill="none" stroke="#A3AAF0" stroke-width="3"/>
<polyline points="770.3,1011.3 780.0,1006.5 790.6,997.0" fill="none" stroke="#A3AAF0" stroke-width="3"/>
<polyline points="780.0,1006.5 782.0,993.4" fill="none" stroke="#A3AAF0" stroke-width="3"/>
<polyline points="766.7,1063.7 776.3,1054.2 778.7,1030.4" fill="none" stroke="#A3AAF0" stroke-width="6"/>
<polyline points="778.7,1030.4 810.8,1011.3" fill="none" stroke="#A3AAF0" stroke-width="3.5"/>
<polyline points="778.7,1030.4 801.3,1031.5" fill="none" stroke="#A3AAF0" stroke-width="3"/>
<polyline points="778.7,1030.4 788.2,1008.9" fill="none" stroke="#A3AAF0" stroke-width="3"/>
<polyline points="766.7,1063.7 793.0,1055.4 806.0,1051.8 838.3,1051.8" fill="none" stroke="#A3AAF0" stroke-width="5"/>
<polyline points="806.0,1051.8 812.0,1036.3" fill="none" stroke="#A3AAF0" stroke-width="3"/>
<polyline points="806.0,1051.8 822.8,1040.0" fill="none" stroke="#A3AAF0" stroke-width="3"/>
<polyline points="793.0,1055.4 799.0,1063.7" fill="none" stroke="#A3AAF0" stroke-width="3"/>
<polyline points="765.3,1092.6 807.9,1084.0 835.5,1099.0 852.6,1103.2" fill="none" stroke="#A3AAF0" stroke-width="6"/>
<polyline points="807.9,1084.0 822.8,1067.0" fill="none" stroke="#A3AAF0" stroke-width="3.5"/>
<polyline points="835.5,1099.0 844.0,1085.0" fill="none" stroke="#A3AAF0" stroke-width="3"/>
<polyline points="751.3,1078.0 785.8,1075.6" fill="none" stroke="#A3AAF0" stroke-width="5"/>
<polyline points="746.0,1099.0 724.8,1084.0 718.4,1062.8" fill="none" stroke="#A3AAF0" stroke-width="5"/>
<polyline points="739.7,1113.9 718.4,1109.6" fill="none" stroke="#A3AAF0" stroke-width="5"/>
<polyline points="728.6,1032.7 721.5,991.0" fill="none" stroke="#A3AAF0" stroke-width="3"/>
<polyline points="738.0,1009.0 733.4,991.0" fill="none" stroke="#A3AAF0" stroke-width="3"/>
<polyline points="731.0,1020.0 738.0,1009.0" fill="none" stroke="#A3AAF0" stroke-width="3.5"/>
<circle cx="728.6" cy="1032.7" r="7.0" fill="#A3AAF0" stroke="#5C64B8" stroke-width="2"/>
<circle cx="753.6" cy="1004.0" r="5.0" fill="#A3AAF0" stroke="#5C64B8" stroke-width="2"/>
<circle cx="766.7" cy="993.4" r="5.5" fill="#A3AAF0" stroke="#5C64B8" stroke-width="2"/>
<circle cx="778.7" cy="1030.4" r="6.5" fill="#A3AAF0" stroke="#5C64B8" stroke-width="2"/>
<circle cx="738.0" cy="1009.0" r="5.0" fill="#A3AAF0" stroke="#5C64B8" stroke-width="2"/>
<circle cx="780.0" cy="1006.5" r="4.0" fill="#A3AAF0" stroke="#5C64B8" stroke-width="2"/>
<circle cx="806.0" cy="1051.8" r="5.0" fill="#A3AAF0" stroke="#5C64B8" stroke-width="2"/>
<circle cx="799.0" cy="1063.7" r="3.5" fill="#A3AAF0" stroke="#5C64B8" stroke-width="2"/>
<circle cx="785.8" cy="1075.6" r="5.0" fill="#A3AAF0" stroke="#5C64B8" stroke-width="2"/>
<path d="M704.0 999.0 L709.0 1008.0 L718.0 1008.0 L722.0 998.0 L716.0 1001.0 L713.0 993.0 L710.0 1001.0 Z" fill="#A3AAF0" stroke="#5C64B8" stroke-width="2"/>
<path d="M748.2 949.0 L753.2 958.0 L762.2 958.0 L766.2 948.0 L760.2 951.0 L757.2 943.0 L754.2 951.0 Z" fill="#A3AAF0" stroke="#5C64B8" stroke-width="2"/>
<path d="M768.5 960.0 L773.5 969.0 L782.5 969.0 L786.5 959.0 L780.5 962.0 L777.5 954.0 L774.5 962.0 Z" fill="#A3AAF0" stroke="#5C64B8" stroke-width="2"/>
<path d="M801.8 1005.0 L806.8 1014.0 L815.8 1014.0 L819.8 1004.0 L813.8 1007.0 L810.8 999.0 L807.8 1007.0 Z" fill="#A3AAF0" stroke="#5C64B8" stroke-width="2"/>
<path d="M829.3 1046.0 L834.3 1055.0 L843.3 1055.0 L847.3 1045.0 L841.3 1048.0 L838.3 1040.0 L835.3 1048.0 Z" fill="#A3AAF0" stroke="#5C64B8" stroke-width="2"/>
<path d="M843.6 1097.0 L848.6 1106.0 L857.6 1106.0 L861.6 1096.0 L855.6 1099.0 L852.6 1091.0 L849.6 1099.0 Z" fill="#A3AAF0" stroke="#5C64B8" stroke-width="2"/>
<ellipse cx="737.0" cy="1140.0" rx="5.0" ry="9.0" fill="none" stroke="#5C64B8" stroke-width="1.8"/>
<ellipse cx="752.0" cy="1148.0" rx="4.0" ry="6.0" fill="none" stroke="#5C64B8" stroke-width="1.8"/>
<ellipse cx="757.0" cy="1165.0" rx="4.0" ry="5.0" fill="none" stroke="#5C64B8" stroke-width="1.8"/>
<ellipse cx="738.0" cy="1175.0" rx="7.0" ry="8.0" fill="none" stroke="#5C64B8" stroke-width="1.8"/>
<ellipse cx="748.0" cy="1200.0" rx="6.0" ry="7.0" fill="none" stroke="#5C64B8" stroke-width="1.8"/>
<ellipse cx="760.0" cy="1188.0" rx="3.0" ry="6.0" fill="none" stroke="#5C64B8" stroke-width="1.8"/>
</g>
<g id="walkers">
<path d="M784.4 1165.0 Q780.2 1145.8 810.0 1142.6 Q844.1 1145.8 837.7 1171.4 Q822.8 1173.5 784.4 1165.0 Z" fill="#5C64B8" stroke="#111" stroke-width="2.5"/>
<ellipse cx="805.7" cy="1167.1" rx="13" ry="12" fill="#A3AAF0" stroke="#111" stroke-width="2.5"/>
<polygon points="807.9,1179.9 824.9,1179.9 831.3,1199.1 805.7,1201.2" fill="#A3AAF0" stroke="#111" stroke-width="2.5" />
<polyline points="775.9,1179.9 810.0,1184.1 846.2,1184.1" fill="none" stroke="#111" stroke-width="2.5"/>
<polyline points="790.8,1199.1 799.3,1207.6 805.7,1194.8 814.3,1203.3" fill="none" stroke="#111" stroke-width="2.5"/>
<polyline points="822.8,1199.1 824.9,1207.6 835.5,1196.9 841.9,1207.6" fill="none" stroke="#111" stroke-width="2.5"/>
<path d="M848.3 1139.4 Q844.1 1122.4 865.4 1122.4 Q882.4 1120.3 882.4 1139.4 Q880.3 1156.5 861.1 1152.2 Q848.3 1150.1 848.3 1139.4 Z" fill="#A3AAF0" stroke="#111" stroke-width="2.5"/>
<ellipse cx="895.2" cy="1135.2" rx="20" ry="24" fill="#A3AAF0" stroke="#111" stroke-width="2.5"/>
<circle cx="898.4" cy="1134.1" r="7" fill="#fff" stroke="#111" stroke-width="2.5"/>
<circle cx="918.6" cy="1125.6" r="7" fill="#fff" stroke="#111" stroke-width="2.5"/>
<polyline points="907.9,1130.9 935.6,1128.8" fill="none" stroke="#111" stroke-width="7"/>
<polyline points="907.9,1130.9 935.6,1128.8" fill="none" stroke="#A3AAF0" stroke-width="3.5"/>
<polygon points="886.7,1160.7 916.5,1152.2 933.5,1160.7 937.8,1186.3 925.0,1196.9 899.4,1196.9 884.5,1186.3" fill="#5C64B8" stroke="#111" stroke-width="2.5" />
<polygon points="903.7,1160.7 916.5,1156.5 920.7,1179.9 910.1,1182.0" fill="#fff" stroke="#111" stroke-width="2" />
<polyline points="931.4,1158.6 956.9,1167.1" fill="none" stroke="#111" stroke-width="2.5"/>
<polyline points="899.4,1196.9 897.3,1218.2 916.5,1219.3" fill="none" stroke="#111" stroke-width="2.5"/>
<polyline points="925.0,1196.9 937.8,1214.0 948.4,1201.2" fill="none" stroke="#111" stroke-width="2.5"/>
<polygon points="866.4,1194.8 895.2,1193.7 895.2,1212.9 866.4,1214.0" fill="#A3AAF0" stroke="#111" stroke-width="2.5" />
<polyline points="876.0,1205.4 878.1,1201.2 882.4,1205.4 886.7,1201.2 889.8,1205.4" fill="none" stroke="#111" stroke-width="2"/>
</g>

<g id="schools">
<polygon points="410.8,1053.5 509.4,1048.0 510.5,1221.3 407.6,1221.3" fill="#E8E8FA" stroke="#111" stroke-width="3" />
<polygon points="410.4,1052.0 504.0,987.0 517.0,975.3 587.3,967.5 604.2,964.9 593.8,966.2 592.5,1000.0 550.8,1018.2 545.0,1037.7 507.9,1048.1" fill="#5C64B8" stroke="#111" stroke-width="3" />
<path d="M507.9 1048.1 L537.8 1037.7 L539.1 1026.0 Q541.7 1016.9 549.5 1014.3 L584.7 1001.3 L587.3 977.9 Q589.9 966.2 602.9 962.3 Q608.1 946.7 623.7 946.1 Q638.0 946.7 640.6 963.0 Q649.7 966.2 651.0 977.9 L652.3 998.7 L677.0 1009.1 Q687.4 1018.2 691.3 1035.1 L714.7 1041.6 L716.2 1220.2 L510.5 1221.3 Z" fill="#A3AAF0" stroke="#111" stroke-width="3"/>
<path d="M587.3 967.5 L593.8 966.2 Q595.1 974.0 592.5 1000.0 L550.8 1018.2 Q545.6 1023.4 545.0 1037.7 L537.8 1037.7 L539.1 1026.0 Q541.7 1016.9 549.5 1014.3 L584.7 1001.3 Z " fill="#E8E8FA" stroke="#111" stroke-width="2.2"/>
<polygon points="458.5,989.6 509.4,987.4 533.2,1005.8 484.5,1013.4" fill="#A3AAF0" stroke="#111" stroke-width="2.8" />
<polygon points="448.7,1014.5 458.5,989.6 484.5,1013.4 484.5,1038.3 449.8,1040.5" fill="#E8E8FA" stroke="#111" stroke-width="2.8" />
<path d="M455.2 1038.3 L455.2 1021.0 Q466.1 999.3 478.0 1021.0 L478.0 1037.2 Z" fill="#5C64B8" stroke="#111" stroke-width="2.5"/>
<polygon points="484.5,1013.4 533.2,1005.8 527.8,1016.6 485.6,1036.1" fill="#A3AAF0" stroke="#111" stroke-width="2.5" />
<circle cx="620.5" cy="987.0" r="19" fill="#E8E8FA" stroke="#111" stroke-width="2.5"/>
<circle cx="618.5" cy="987.0" r="17.5" fill="#fff" stroke="#111" stroke-width="2.5"/>
<polyline points="612.5,988.0 618.5,993.0 621.5,980.0" fill="none" stroke="#111" stroke-width="2.2"/>
<text x="573.0" y="1040.5" font-family="Liberation Sans, sans-serif" font-size="19.6" textLength="70.7" lengthAdjust="spacingAndGlyphs" fill="#111">ECOLE</text>
<text x="540.8" y="1070.8" font-family="Liberation Sans, sans-serif" font-size="25.1" textLength="122.4" lengthAdjust="spacingAndGlyphs" fill="#111">PRIMAIRE</text>
<path d="M421.8 1184.6 L421.8 1106.0 Q460.1 1070.0 498.4 1106.0 L498.4 1184.6 Z" fill="#A3AAF0" stroke="#111" stroke-width="3"/>
<path d="M430.0 1183.0 L430.0 1112.0 Q463.5 1082.0 497.0 1112.0 L497.0 1183.0 Z" fill="#5C64B8" stroke="#111" stroke-width="2.5"/>
<polygon points="431.0,1103.0 496.0,1103.0 496.0,1110.0 431.0,1111.0" fill="#A3AAF0" stroke="#111" stroke-width="2" />
<path d="M525.5 1184.6 L525.5 1102.0 Q577.0 1057.4 628.6 1102.0 L628.6 1184.6 Z" fill="#A3AAF0" stroke="#111" stroke-width="3"/>
<path d="M533.0 1183.0 L533.0 1106.0 Q576.5 1064.0 620.0 1106.0 L620.0 1183.0 Z" fill="#5C64B8" stroke="#111" stroke-width="2.5"/>
<polygon points="533.0,1101.0 620.0,1101.0 620.0,1106.0 533.0,1106.0" fill="#A3AAF0" stroke="#111" stroke-width="2" />
<path d="M645.0 1201.1 L645.0 1100.0 Q675.1 1054.8 705.2 1100.0 L705.2 1201.1 Z" fill="#A3AAF0" stroke="#111" stroke-width="3"/>
<path d="M651.0 1200.0 L651.0 1104.0 Q674.5 1058.0 698.0 1104.0 L698.0 1200.0 Z" fill="#5C64B8" stroke="#111" stroke-width="2.5"/>
<polygon points="670.0,1214.0 752.0,1214.0 752.0,1222.0 670.0,1222.0" fill="#A3AAF0" stroke="#111" stroke-width="2.5" />
<polygon points="666.0,1207.0 738.0,1207.0 738.0,1214.0 666.0,1214.0" fill="#A3AAF0" stroke="#111" stroke-width="2.5" />
<polygon points="662.0,1200.0 725.0,1200.0 725.0,1207.0 662.0,1207.0" fill="#A3AAF0" stroke="#111" stroke-width="2.5" />
<ellipse cx="481.9" cy="1165.1" rx="13.6" ry="18.3" fill="#A3AAF0" stroke="#111" stroke-width="2.5"/>
<ellipse cx="445.6" cy="1156.9" rx="14.4" ry="11.2" fill="#fff" stroke="#111" stroke-width="2.5"/>
<polyline points="447.1,1155.1 458.9,1150.4" fill="none" stroke="#111" stroke-width="7"/>
<polyline points="447.1,1155.1 458.9,1150.4" fill="none" stroke="#fff" stroke-width="3.5"/>
<polyline points="467.1,1164.6 476.6,1162.2" fill="none" stroke="#111" stroke-width="6"/>
<polyline points="467.1,1164.6 476.6,1162.2" fill="none" stroke="#A3AAF0" stroke-width="3"/>
<polygon points="530.8,1184.6 536.7,1171.6 549.6,1166.9 560.2,1171.6 560.2,1184.6" fill="#A3AAF0" stroke="#111" stroke-width="2.5" />
<polygon points="573.2,1164.6 583.8,1164.6 583.8,1184.6 573.2,1184.6" fill="#A3AAF0" stroke="#111" stroke-width="2.5" />
<ellipse cx="547.3" cy="1152.2" rx="10.6" ry="15.9" fill="#fff" stroke="#111" stroke-width="2.5"/>
<ellipse cx="534.3" cy="1145.1" rx="4.7" ry="4.1" fill="#A3AAF0" stroke="#111" stroke-width="2"/>
<ellipse cx="547.3" cy="1136.9" rx="3.5" ry="2.9" fill="#A3AAF0" stroke="#111" stroke-width="2"/>
<ellipse cx="580.9" cy="1153.4" rx="13.6" ry="15.9" fill="#A3AAF0" stroke="#111" stroke-width="2.5"/>
<ellipse cx="575.6" cy="1167.5" rx="9.4" ry="5.3" fill="#A3AAF0" stroke="#111" stroke-width="2"/>
<polyline points="549.6,1152.8 569.7,1152.2" fill="none" stroke="#111" stroke-width="7"/>
<polyline points="549.6,1152.8 569.7,1152.2" fill="none" stroke="#fff" stroke-width="3.5"/>
<polyline points="660.4,1172.8 662.8,1196.4" fill="none" stroke="#111" stroke-width="2.5"/>
<polyline points="668.6,1172.8 671.0,1196.4 681.6,1197.6" fill="none" stroke="#111" stroke-width="2.5"/>
<path d="M651.0 1128.0 Q651.0 1096.2 673.4 1098.6 Q688.7 1122.1 693.4 1137.5 Q667.5 1145.7 651.0 1128.0 Z" fill="#A3AAF0" stroke="#111" stroke-width="2.5"/>
<polygon points="648.6,1143.3 678.1,1143.3 689.9,1168.1 676.9,1172.8 645.1,1172.8" fill="#A3AAF0" stroke="#111" stroke-width="2.5" />
<polygon points="653.3,1130.4 675.7,1130.4 673.4,1148.1 654.5,1148.1" fill="#fff" stroke="#111" stroke-width="2.5" />
<ellipse cx="665.7" cy="1116.8" rx="13.6" ry="13.6" fill="#fff" stroke="#111" stroke-width="2.5"/>
<polyline points="641.5,1133.9 655.7,1124.5" fill="none" stroke="#111" stroke-width="7"/>
<polyline points="641.5,1133.9 655.7,1124.5" fill="none" stroke="#fff" stroke-width="3.5"/>
<polyline points="444.7,1215.2 444.7,1222.3" fill="none" stroke="#111" stroke-width="2.5"/>
<polyline points="450.6,1215.2 450.6,1222.3" fill="none" stroke="#111" stroke-width="2.5"/>
<ellipse cx="446.8" cy="1205.8" rx="18.6" ry="9.4" fill="#A3AAF0" stroke="#111" stroke-width="2.5"/>
<polyline points="429.4,1204.6 464.8,1205.8" fill="none" stroke="#111" stroke-width="2"/>
<ellipse cx="447.7" cy="1188.1" rx="18.3" ry="10.6" fill="#fff" stroke="#111" stroke-width="2.5"/>
<path d="M442.4 1176.3 Q455.4 1162.2 464.8 1175.2 Q481.3 1184.6 455.4 1188.1 Q442.4 1176.3 442.4 1176.3 Z" fill="#A3AAF0" stroke="#111" stroke-width="2.5"/>
<polyline points="430.6,1184.6 443.6,1185.8" fill="none" stroke="#111" stroke-width="6"/>
<polyline points="430.6,1184.6 443.6,1185.8" fill="none" stroke="#fff" stroke-width="3"/>
<polygon points="348.3,1062.6 384.7,1058.5 390.8,1109.3 351.0,1112.0" fill="#A3AAF0" stroke="#111" stroke-width="3" />
<polygon points="358.6,1077.0 379.2,1076.0 380.0,1099.0 360.0,1100.0" fill="#A3AAF0" stroke="#111" stroke-width="2.5" />
<path d="M388.8 1077 Q405 1074 408.7 1086" fill="none" stroke="#111" stroke-width="2.5"/>
<ellipse cx="333.9" cy="1097.6" rx="12.7" ry="5" fill="none" stroke="#111" stroke-width="2.3"/>
<polyline points="325.0,1100.0 324.0,1122.0" fill="none" stroke="#111" stroke-width="1.6"/>
<polyline points="330.0,1100.0 329.0,1122.0" fill="none" stroke="#111" stroke-width="1.6"/>
<polyline points="336.0,1100.0 335.0,1122.0" fill="none" stroke="#111" stroke-width="1.6"/>
<polyline points="342.0,1100.0 341.0,1122.0" fill="none" stroke="#111" stroke-width="1.6"/>
<polyline points="322.0,1106.0 345.0,1106.0" fill="none" stroke="#111" stroke-width="1.6"/>
<polyline points="322.0,1113.0 345.0,1113.0" fill="none" stroke="#111" stroke-width="1.6"/>
<polyline points="322.0,1119.0 345.0,1119.0" fill="none" stroke="#111" stroke-width="1.6"/>
<polyline points="346.0,1097.0 366.0,1095.0" fill="none" stroke="#111" stroke-width="2.3"/>
<circle cx="360.6" cy="1130.5" r="6.2" fill="#A3AAF0" stroke="#111" stroke-width="2.2"/>
<polyline points="373.0,1127.0 375.0,1133.0" fill="none" stroke="#111" stroke-width="1.5"/>
<polyline points="378.0,1133.0 379.0,1135.0" fill="none" stroke="#111" stroke-width="1.5"/>
<path d="M300 1170 Q298 1152 318 1153 L323 1175 Z" fill="#A3AAF0" stroke="#111" stroke-width="0"/>
<path d="M313 1165 Q315 1152 330 1155 L345 1148 Q348 1150 342 1162 Q345 1178 333 1183 Q322 1186 315 1180 Q310 1175 313 1165 Z" fill="#fff" stroke="#111" stroke-width="2.5"/>
<ellipse cx="326" cy="1175" rx="3" ry="2.5" fill="#A3AAF0" stroke="#111" stroke-width="1.5"/>
<polyline points="350.0,1180.0 357.0,1152.0" fill="none" stroke="#111" stroke-width="2.5"/>
<polyline points="355.0,1183.0 371.0,1152.0" fill="none" stroke="#111" stroke-width="2.5"/>
<polyline points="352.0,1150.0 357.0,1152.0 362.0,1147.0" fill="none" stroke="#111" stroke-width="2"/>
<polyline points="367.0,1149.0 371.0,1152.0 375.0,1150.0" fill="none" stroke="#111" stroke-width="2"/>
<ellipse cx="350" cy="1193" rx="10" ry="13" fill="#A3AAF0" stroke="#111" stroke-width="2.5"/>
<polyline points="340.0,1190.0 360.0,1190.0" fill="none" stroke="#111" stroke-width="2"/>
<polyline points="345.0,1205.0 355.0,1213.0 343.0,1217.0 358.0,1217.0" fill="none" stroke="#111" stroke-width="2.5"/>
<polyline points="356.0,1204.0 365.0,1198.0 362.0,1212.0 374.0,1206.0" fill="none" stroke="#111" stroke-width="2.5"/>
<polygon points="1085.9,955.8 1261.5,955.8 1261.5,972.0 1085.9,972.0" fill="#E8E8FA" stroke="#111" stroke-width="3" />
<polygon points="1261.5,951.2 1373.5,951.2 1373.5,972.0 1261.5,972.0" fill="#A3AAF0" stroke="#111" stroke-width="3" />
<polygon points="1305.3,936.2 1336.5,936.2 1336.5,951.2 1305.3,951.2" fill="#A3AAF0" stroke="#111" stroke-width="2.5" />
<polyline points="1312.0,936.0 1312.0,928.0 1318.0,928.0 1318.0,936.0" fill="none" stroke="#111" stroke-width="2.5"/>
<polyline points="1322.0,936.0 1323.0,928.0 1329.0,928.0 1329.0,936.0" fill="none" stroke="#111" stroke-width="2.5"/>
<polygon points="1052.4,974.3 1233.7,972.0 1233.7,1223.8 1052.4,1223.8" fill="#E8E8FA" stroke="#111" stroke-width="3" />
<polygon points="1233.7,972.0 1396.6,969.7 1396.6,1223.8 1233.7,1223.8" fill="#A3AAF0" stroke="#111" stroke-width="3" />
<polygon points="1067.4,985.8 1218.7,985.8 1218.7,1047.0 1067.4,1047.0" fill="#5C64B8" stroke="#111" stroke-width="3" />
<polyline points="1073.0,988.0 1073.0,1045.0" fill="none" stroke="#A3AAF0" stroke-width="4"/>
<polygon points="1249.9,988.0 1385.0,988.0 1385.0,1056.3 1249.9,1056.3" fill="#5C64B8" stroke="#111" stroke-width="3" />
<polyline points="1378.0,991.0 1378.0,1054.0" fill="none" stroke="#A3AAF0" stroke-width="4"/>
<polygon points="1147.0,1102.5 1219.9,1102.5 1219.9,1192.6 1147.0,1192.6" fill="#5C64B8" stroke="#111" stroke-width="3" />
<polyline points="1153.0,1105.0 1153.0,1188.0" fill="none" stroke="#A3AAF0" stroke-width="4"/>
<polygon points="1139.0,1186.0 1218.0,1186.0 1218.0,1194.0 1139.0,1194.0" fill="#A3AAF0" stroke="#111" stroke-width="2.5" />
<polygon points="1249.9,1101.3 1387.3,1101.3 1387.3,1190.3 1249.9,1190.3" fill="#5C64B8" stroke="#111" stroke-width="3" />
<polygon points="1070.9,1123.3 1135.6,1123.3 1135.6,1223.8 1070.9,1223.8" fill="#5C64B8" stroke="#111" stroke-width="3" />
<text x="1085.9" y="1072.5" font-family="Liberation Sans, sans-serif" font-size="20.9" textLength="93.6" lengthAdjust="spacingAndGlyphs" fill="#111">ECOLE</text>
<text x="1061.6" y="1094.4" font-family="Liberation Sans, sans-serif" font-size="22.3" textLength="164.0" lengthAdjust="spacingAndGlyphs" fill="#111">SECONDAIRE</text>
<polygon points="976.2,1106.0 1140.2,1106.0 1140.2,1119.8 976.2,1119.8" fill="#E8E8FA" stroke="#111" stroke-width="3" />
<polygon points="1100.0,1106.0 1140.2,1106.0 1140.2,1119.8 1100.0,1119.8" fill="#A3AAF0" stroke="#111" stroke-width="3" />
<polygon points="988.9,1119.8 1000.4,1119.8 1000.4,1200.0 988.9,1200.0" fill="#A3AAF0" stroke="#111" stroke-width="2.5" />
<polygon points="985.4,1198.0 1005.4,1198.0 1005.4,1222.6 985.4,1222.6" fill="#A3AAF0" stroke="#111" stroke-width="2.5" />
<polygon points="1081.0,1119.8 1094.0,1119.8 1094.0,1200.0 1081.0,1200.0" fill="#A3AAF0" stroke="#111" stroke-width="2.5" />
<polygon points="1077.5,1198.0 1099.0,1198.0 1099.0,1222.6 1077.5,1222.6" fill="#A3AAF0" stroke="#111" stroke-width="2.5" />
<polygon points="1114.0,1022.9 1134.7,1022.9 1136.3,1045.1 1112.4,1045.1" fill="#A3AAF0" stroke="#111" stroke-width="2.5" />
<polygon points="1150.6,1027.7 1169.6,1027.7 1171.2,1045.1 1149.0,1045.1" fill="#A3AAF0" stroke="#111" stroke-width="2.5" />
<polygon points="1096.5,1032.4 1112.4,1032.4 1115.6,1045.1 1095.0,1045.1" fill="#A3AAF0" stroke="#111" stroke-width="2.5" />
<ellipse cx="1127.5" cy="1003.8" rx="23.0" ry="12.7" fill="#A3AAF0" stroke="#111" stroke-width="2.5"/>
<ellipse cx="1125.1" cy="1011.8" rx="14.3" ry="14.3" fill="#fff" stroke="#111" stroke-width="2.5"/>
<polyline points="1131.5,1010.2 1139.4,1007.8" fill="none" stroke="#111" stroke-width="6"/>
<polyline points="1131.5,1010.2 1139.4,1007.8" fill="none" stroke="#fff" stroke-width="3"/>
<ellipse cx="1096.5" cy="1020.5" rx="15.9" ry="16.7" fill="#fff" stroke="#111" stroke-width="2.5"/>
<polyline points="1104.5,1019.7 1117.2,1018.1" fill="none" stroke="#111" stroke-width="6"/>
<polyline points="1104.5,1019.7 1117.2,1018.1" fill="none" stroke="#fff" stroke-width="3"/>
<ellipse cx="1163.3" cy="1024.5" rx="14.3" ry="14.3" fill="#A3AAF0" stroke="#111" stroke-width="2.5"/>
<polyline points="1137.9,1026.1 1153.7,1024.5" fill="none" stroke="#111" stroke-width="6"/>
<polyline points="1137.9,1026.1 1153.7,1024.5" fill="none" stroke="#A3AAF0" stroke-width="3"/>
<polygon points="1328.5,1027.7 1350.8,1026.1 1352.3,1053.1 1330.1,1053.1" fill="#fff" stroke="#111" stroke-width="2.5" />
<ellipse cx="1333.3" cy="1015.7" rx="23.8" ry="11.9" fill="#A3AAF0" stroke="#111" stroke-width="2.5"/>
<polygon points="1312.6,989.5 1342.8,989.5 1336.5,1005.4 1317.4,1005.4" fill="#A3AAF0" stroke="#111" stroke-width="2" />
<ellipse cx="1317.4" cy="1013.4" rx="6.4" ry="6.4" fill="#fff" stroke="#111" stroke-width="2.2"/>
<ellipse cx="1334.9" cy="1013.4" rx="6.4" ry="6.4" fill="#fff" stroke="#111" stroke-width="2.2"/>
<ellipse cx="1334.9" cy="1022.9" rx="11.1" ry="4.8" fill="#A3AAF0" stroke="#111" stroke-width="2"/>
<polyline points="1298.3,1010.2 1314.2,1024.5 1330.1,1027.7" fill="none" stroke="#111" stroke-width="2.5"/>
<polyline points="1352.3,1032.4 1368.2,1013.4" fill="none" stroke="#111" stroke-width="2.5"/>
<ellipse cx="1272.1" cy="1027.7" rx="16.7" ry="11.1" fill="#A3AAF0" stroke="#111" stroke-width="2.5"/>
<ellipse cx="1276.9" cy="1029.3" rx="11.9" ry="9.5" fill="#fff" stroke="#111" stroke-width="2.5"/>
<ellipse cx="1265.0" cy="1047.5" rx="9.5" ry="7.1" fill="#fff" stroke="#111" stroke-width="2.5"/>
<ellipse cx="1289.6" cy="1045.1" rx="8.7" ry="9.5" fill="#fff" stroke="#111" stroke-width="2.5"/>
<ellipse cx="1307.9" cy="1045.5" rx="9.5" ry="8.3" fill="#fff" stroke="#111" stroke-width="2.5"/>
<polygon points="1195.0,1143.6 1212.5,1143.6 1214.1,1185.0 1196.6,1185.0" fill="#A3AAF0" stroke="#111" stroke-width="2.5" />
<ellipse cx="1202.2" cy="1127.0" rx="15.1" ry="18.3" fill="#A3AAF0" stroke="#111" stroke-width="2.5"/>
<polygon points="1155.3,1162.7 1174.4,1162.7 1174.4,1183.4 1155.3,1183.4" fill="#E8E8FA" stroke="#111" stroke-width="2.5" />
<polyline points="1156.1,1167.5 1173.6,1167.5" fill="none" stroke="#111" stroke-width="1.5"/>
<polyline points="1156.1,1172.2 1173.6,1172.2" fill="none" stroke="#111" stroke-width="1.5"/>
<polyline points="1156.1,1177.0 1173.6,1177.0" fill="none" stroke="#111" stroke-width="1.5"/>
<ellipse cx="1170.4" cy="1137.3" rx="15.1" ry="9.5" fill="#A3AAF0" stroke="#111" stroke-width="2.5"/>
<ellipse cx="1171.2" cy="1151.6" rx="15.9" ry="14.3" fill="#fff" stroke="#111" stroke-width="2.5"/>
<polyline points="1174.4,1151.6 1187.1,1156.4" fill="none" stroke="#111" stroke-width="6"/>
<polyline points="1174.4,1151.6 1187.1,1156.4" fill="none" stroke="#fff" stroke-width="3"/>
<polygon points="1301.5,1162.7 1312.6,1162.7 1314.2,1188.1 1299.9,1188.1" fill="#A3AAF0" stroke="#111" stroke-width="2.5" />
<ellipse cx="1268.9" cy="1166.7" rx="16.7" ry="19.9" fill="#A3AAF0" stroke="#111" stroke-width="2.5"/>
<ellipse cx="1300.7" cy="1142.1" rx="15.1" ry="22.2" fill="#fff" stroke="#111" stroke-width="2.5"/>
<polygon points="1274.5,1121.4 1314.2,1119.8 1317.4,1130.9 1290.4,1129.3" fill="#A3AAF0" stroke="#111" stroke-width="2.2" />
<ellipse cx="1322.9" cy="1182.6" rx="10.3" ry="7.1" fill="#fff" stroke="#111" stroke-width="2.5"/>
<polygon points="1353.9,1143.6 1376.2,1151.6 1377.8,1199.3 1353.9,1199.3" fill="#A3AAF0" stroke="#111" stroke-width="2.5" />
<path d="M1326.9 1154.8 Q1333.3 1123.0 1358.7 1130.9 L1361.9 1186.5 L1330.1 1178.6 Z" fill="#fff" stroke="#111" stroke-width="2.5"/>
<ellipse cx="1334.1" cy="1157.9" rx="10.3" ry="17.5" fill="#A3AAF0" stroke="#111" stroke-width="2.5"/>
<polyline points="1346.0,1132.5 1347.6,1185.0" fill="none" stroke="#111" stroke-width="1.5"/>
<polyline points="1350.8,1132.5 1352.3,1185.0" fill="none" stroke="#111" stroke-width="1.5"/>
<polyline points="1355.5,1132.5 1357.1,1185.0" fill="none" stroke="#111" stroke-width="1.5"/>
<ellipse cx="1115.6" cy="1152.4" rx="17.5" ry="23.0" fill="#A3AAF0" stroke="#111" stroke-width="2.5"/>
<polyline points="1098.1,1157.9 1112.4,1154.8" fill="none" stroke="#111" stroke-width="6"/>
<polyline points="1098.1,1157.9 1112.4,1154.8" fill="none" stroke="#A3AAF0" stroke-width="3"/>
<polygon points="1123.6,1170.7 1134.7,1167.5 1134.7,1200.1 1123.6,1200.1" fill="#5C64B8" stroke="#111" stroke-width="2.5" />
<polygon points="1678.4,913.5 1835.5,913.5 1835.5,926.0 1678.4,926.0" fill="#E8E8FA" stroke="#111" stroke-width="3" />
<polygon points="1835.5,911.0 1912.8,911.0 1912.8,926.0 1835.5,926.0" fill="#A3AAF0" stroke="#111" stroke-width="3" />
<polygon points="1656.3,925.8 1817.0,927.0 1813.4,1225.2 1656.3,1225.2" fill="#E8E8FA" stroke="#111" stroke-width="3" />
<polygon points="1817.0,927.0 1927.5,927.0 1926.0,1225.2 1813.4,1225.2" fill="#A3AAF0" stroke="#111" stroke-width="3" />
<text x="1690.6" y="946.6" font-family="Liberation Sans, sans-serif" font-size="19.6" textLength="74.9" lengthAdjust="spacingAndGlyphs" fill="#111">ECOLE</text>
<text x="1663.6" y="972.4" font-family="Liberation Sans, sans-serif" font-size="22.3" textLength="147.4" lengthAdjust="spacingAndGlyphs" fill="#111">PROFESSIONNElle</text>
<polygon points="1673.5,987.1 1718.9,987.1 1718.9,1036.2 1673.5,1036.2" fill="#5C64B8" stroke="#111" stroke-width="3" />
<polyline points="1678.5,989.1 1678.5,1034.2" fill="none" stroke="#A3AAF0" stroke-width="4"/>
<polygon points="1741.0,987.1 1788.8,987.1 1788.8,1036.2 1741.0,1036.2" fill="#5C64B8" stroke="#111" stroke-width="3" />
<polyline points="1746.0,989.1 1746.0,1034.2" fill="none" stroke="#A3AAF0" stroke-width="4"/>
<polyline points="1748.0,995.0 1786.0,995.0" fill="none" stroke="#111" stroke-width="2"/>
<polyline points="1748.0,1001.0 1786.0,1001.0" fill="none" stroke="#111" stroke-width="2"/>
<polygon points="1833.0,947.9 1912.8,947.9 1912.8,990.8 1833.0,990.8" fill="#5C64B8" stroke="#111" stroke-width="3" />
<polyline points="1907.8,950.9 1907.8,987.8" fill="none" stroke="#A3AAF0" stroke-width="4"/>
<polygon points="1830.5,1019.0 1912.8,1019.0 1912.8,1064.5 1830.5,1064.5" fill="#5C64B8" stroke="#111" stroke-width="3" />
<polyline points="1907.8,1022.0 1907.8,1061.5" fill="none" stroke="#A3AAF0" stroke-width="4"/>
<polygon points="1829.3,1097.6 1910.3,1097.6 1910.3,1141.8 1829.3,1141.8" fill="#5C64B8" stroke="#111" stroke-width="3" />
<polyline points="1905.3,1100.6 1905.3,1138.8" fill="none" stroke="#A3AAF0" stroke-width="4"/>
<polygon points="1673.5,1076.7 1747.0,1076.7 1747.0,1192.0 1673.5,1192.0" fill="#5C64B8" stroke="#111" stroke-width="3" />
<polygon points="1609.6,1192.0 1761.8,1192.0 1761.8,1225.2 1609.6,1225.2" fill="#A3AAF0" stroke="#111" stroke-width="2.5" />
<polyline points="1625.0,1200.0 1750.0,1200.0" fill="none" stroke="#111" stroke-width="2.5"/>
<polyline points="1620.0,1210.0 1756.0,1210.0" fill="none" stroke="#111" stroke-width="2.5"/>
<polygon points="1599.8,1052.2 1752.0,1052.2 1752.0,1069.4 1599.8,1069.4" fill="#E8E8FA" stroke="#111" stroke-width="3" />
<polygon points="1717.0,1052.2 1752.0,1052.2 1752.0,1069.4 1717.0,1069.4" fill="#A3AAF0" stroke="#111" stroke-width="3" />
<polygon points="1613.3,1069.4 1624.4,1069.4 1624.4,1225.0 1613.3,1225.0" fill="#A3AAF0" stroke="#111" stroke-width="2.5" />
<polygon points="1690.6,1069.4 1702.9,1069.4 1702.9,1225.0 1690.6,1225.0" fill="#A3AAF0" stroke="#111" stroke-width="2.5" />
<polygon points="1670.2,1166.1 1689.1,1166.1 1691.2,1191.2 1670.2,1191.2" fill="#5C64B8" stroke="#111" stroke-width="2.5" />
<path d="M1638.8 1159.8 Q1651.4 1124.2 1682.8 1122.1 L1707.9 1138.9 Q1710.0 1166.1 1672.3 1168.2 Z" fill="#A3AAF0" stroke="#111" stroke-width="2.5"/>
<polygon points="1657.7,1128.4 1689.1,1122.1 1687.0,1138.9 1664.0,1136.8" fill="#fff" stroke="#111" stroke-width="2" />
<ellipse cx="1679.7" cy="1107.5" rx="15.7" ry="16.7" fill="#fff" stroke="#111" stroke-width="2.5"/>
<polyline points="1652.4,1110.6 1670.2,1111.7" fill="none" stroke="#111" stroke-width="7"/>
<polyline points="1652.4,1110.6 1670.2,1111.7" fill="none" stroke="#fff" stroke-width="3.5"/>
<polygon points="1766.5,1170.3 1783.3,1176.6 1772.8,1189.1" fill="#fff" stroke="#111" stroke-width="2.5" />
<path d="M1726.8 1166.1 Q1728.9 1117.9 1762.3 1117.9 L1789.6 1124.2 Q1783.3 1166.1 1749.8 1174.5 Z" fill="#fff" stroke="#111" stroke-width="2.5"/>
<polygon points="1745.6,1122.1 1785.4,1120.0 1783.3,1164.0 1747.7,1170.3 1741.4,1145.1" fill="#A3AAF0" stroke="#111" stroke-width="2.5" />
<polygon points="1726.8,1132.6 1743.5,1128.4 1747.7,1168.2 1728.9,1170.3" fill="#fff" stroke="#111" stroke-width="2.5" />
<ellipse cx="1764.4" cy="1104.3" rx="20.9" ry="19.9" fill="#fff" stroke="#111" stroke-width="2.5"/>
<ellipse cx="1747.7" cy="1102.2" rx="8.4" ry="9.4" fill="#A3AAF0" stroke="#111" stroke-width="2"/>
<polyline points="1766.5,1103.3 1770.7,1080.3" fill="none" stroke="#111" stroke-width="9"/>
<polyline points="1766.5,1103.3 1770.7,1080.3" fill="none" stroke="#fff" stroke-width="5"/>
<polyline points="1779.1,1099.1 1800.0,1107.5" fill="none" stroke="#111" stroke-width="9"/>
<polyline points="1779.1,1099.1 1800.0,1107.5" fill="none" stroke="#fff" stroke-width="5"/>
<polyline points="1722.6,1141.0 1754.0,1149.3" fill="none" stroke="#111" stroke-width="5"/>
<polygon points="1831.4,1199.6 1850.3,1201.7 1854.5,1225.7 1829.3,1218.4" fill="#A3AAF0" stroke="#111" stroke-width="2.5" />
<polygon points="1877.5,1201.7 1892.1,1203.8 1902.6,1220.5 1885.9,1224.7" fill="#A3AAF0" stroke="#111" stroke-width="2.5" />
<path d="M1850.3 1157.7 Q1883.8 1141.0 1890.0 1180.7 Q1885.9 1208.0 1850.3 1203.8 Z" fill="#5C64B8" stroke="#111" stroke-width="2.5"/>
<ellipse cx="1859.7" cy="1147.2" rx="17.8" ry="23.0" fill="#fff" stroke="#111" stroke-width="2.5"/>
<polyline points="1827.2,1148.3 1846.1,1147.2" fill="none" stroke="#111" stroke-width="7"/>
<polyline points="1827.2,1148.3 1846.1,1147.2" fill="none" stroke="#fff" stroke-width="3.5"/>
<polygon points="1835.6,1180.7 1850.3,1178.6 1848.2,1203.8 1837.7,1199.6" fill="#A3AAF0" stroke="#111" stroke-width="2.5" />
<ellipse cx="1833.5" cy="1171.3" rx="12.6" ry="13.6" fill="#fff" stroke="#111" stroke-width="2.5"/>
<polyline points="1814.7,1176.6 1827.2,1175.5" fill="none" stroke="#111" stroke-width="6"/>
<polyline points="1814.7,1176.6 1827.2,1175.5" fill="none" stroke="#fff" stroke-width="3"/>
<polyline points="1821.0,1191.2 1816.8,1212.1 1823.1,1218.4" fill="none" stroke="#111" stroke-width="2.5"/>
<polygon points="1848.2,963.0 1867.0,958.8 1877.5,973.5 1869.1,984.0 1850.3,981.9" fill="#A3AAF0" stroke="#111" stroke-width="2" />
<polyline points="1856.6,971.4 1875.4,971.4" fill="none" stroke="#111" stroke-width="5"/>
<polyline points="1856.6,971.4 1875.4,971.4" fill="none" stroke="#fff" stroke-width="2.5"/>
<ellipse cx="1895.3" cy="975.6" rx="9.4" ry="12.6" fill="#fff" stroke="#111" stroke-width="2.5"/>
<polygon points="1881.7,963.0 1900.5,958.8 1904.7,967.2 1888.0,967.2" fill="#A3AAF0" stroke="#111" stroke-width="2" />
<ellipse cx="1840.8" cy="981.9" rx="7.3" ry="8.4" fill="#fff" stroke="#111" stroke-width="2.5"/>
<ellipse cx="1878.5" cy="1047.8" rx="19.9" ry="17.8" fill="#A3AAF0" stroke="#111" stroke-width="2"/>
<ellipse cx="1879.6" cy="1049.9" rx="12.6" ry="13.6" fill="#fff" stroke="#111" stroke-width="2.5"/>
<polyline points="1860.7,1049.9 1875.4,1047.8" fill="none" stroke="#111" stroke-width="6"/>
<polyline points="1860.7,1049.9 1875.4,1047.8" fill="none" stroke="#fff" stroke-width="3"/>
<ellipse cx="1840.8" cy="1052.0" rx="9.4" ry="11.5" fill="#fff" stroke="#111" stroke-width="2.5"/>
<path d="M1940 1200 Q1935 1158 1960 1158 Q1985 1165 1990 1210 Q1975 1218 1950 1212 Z" fill="#5C64B8" stroke="#111" stroke-width="2.5"/>
<path d="M1942 1185 Q1945 1165 1958 1168 L1962 1195 Z" fill="#A3AAF0" stroke="#111" stroke-width="2"/>
<polyline points="1955.0,1212.0 1950.0,1222.0" fill="none" stroke="#111" stroke-width="2.5"/>
<polyline points="1978.0,1212.0 1990.0,1222.0" fill="none" stroke="#111" stroke-width="2.5"/>
<path d="M1472.6 1124.2 Q1480.4 1106.7 1497.0 1119.4 Q1527.2 1117.4 1526.2 1127.2 Q1498.0 1135.9 1474.6 1128.1 Q1471.7 1126.2 1472.6 1124.2 Z" fill="#A3AAF0" stroke="#111" stroke-width="2.5"/>
<polyline points="1461.9,1198.3 1474.6,1208.1 1474.6,1187.6 1488.2,1188.6" fill="none" stroke="#111" stroke-width="2.5"/>
<polyline points="1499.9,1209.0 1513.6,1200.3 1518.4,1206.1" fill="none" stroke="#111" stroke-width="2.5"/>
<path d="M1490.2 1205.1 Q1498.0 1227.6 1527.2 1213.9 L1546.7 1216.8" fill="none" stroke="#111" stroke-width="2.3"/>
<polygon points="1481.4,1173.0 1503.8,1165.2 1520.4,1173.0 1517.5,1192.5 1501.9,1196.4 1483.4,1192.5" fill="#A3AAF0" stroke="#111" stroke-width="2.5" />
<polygon points="1483.4,1187.6 1501.9,1188.6 1501.9,1196.4 1484.3,1194.4" fill="#5C64B8" stroke="#111" stroke-width="2" />
<polygon points="1493.1,1159.3 1517.5,1157.4 1520.4,1163.2 1502.8,1166.2" fill="#A3AAF0" stroke="#111" stroke-width="2.5" />
<ellipse cx="1467.3" cy="1158.8" rx="22.9" ry="20.0" fill="#A3AAF0" stroke="#111" stroke-width="2.5"/>
<polyline points="1431.7,1164.7 1455.1,1163.2" fill="none" stroke="#111" stroke-width="8"/>
<polyline points="1431.7,1164.7 1455.1,1163.2" fill="none" stroke="#A3AAF0" stroke-width="4"/>
<polyline points="1564.2,1204.2 1562.3,1225.6" fill="none" stroke="#111" stroke-width="2.5"/>
<polyline points="1570.1,1204.2 1570.1,1225.6" fill="none" stroke="#111" stroke-width="2.5"/>
<polygon points="1551.6,1182.7 1562.3,1182.7 1585.7,1195.4 1575.9,1205.1 1552.6,1205.1" fill="#A3AAF0" stroke="#111" stroke-width="2.5" />
<ellipse cx="1545.7" cy="1158.8" rx="20.5" ry="18.0" fill="#5C64B8" stroke="#111" stroke-width="2.5"/>
<ellipse cx="1548.2" cy="1168.1" rx="11.2" ry="14.6" fill="#A3AAF0" stroke="#111" stroke-width="2.5"/>
<polyline points="1556.5,1165.2 1575.9,1164.7" fill="none" stroke="#111" stroke-width="8"/>
<polyline points="1556.5,1165.2 1575.9,1164.7" fill="none" stroke="#A3AAF0" stroke-width="4"/>
</g>

<g id="desk">
<polygon points="1389.8,641.1 1402.5,621.2 1438.6,624.8 1442.2,648.3 1420.5,682.6 1398.8,680.8" fill="#EE5010" stroke="#111" stroke-width="2.5" />
<polyline points="1442.2,630.3 1420.5,677.2" fill="none" stroke="#111" stroke-width="5"/>
<polyline points="1442.2,630.3 1420.5,677.2" fill="none" stroke="#fff" stroke-width="2"/>
<polygon points="1442.2,707.9 1456.6,688.0 1480.1,670.0 1489.1,677.2 1474.7,702.5 1453.0,713.3" fill="#EE5010" stroke="#111" stroke-width="2.5" />
<polygon points="1474.7,702.5 1485.5,684.4 1514.4,680.8 1532.4,693.4 1521.6,698.8 1489.1,695.2" fill="#fff" stroke="#111" stroke-width="2.5" />
<polygon points="1249.9,651.9 1319.4,622.1 1469.2,734.9 1389.8,774.7" fill="#EE5010" stroke="#111" stroke-width="3" />
<polygon points="1278.8,612.2 1288.7,609.5 1310.4,655.5 1299.6,660.0" fill="#E8E8FA" stroke="#111" stroke-width="2.5" />
<polygon points="1299.6,635.7 1319.4,633.9 1333.9,653.7 1312.2,660.9" fill="#E8E8FA" stroke="#111" stroke-width="2.5" />
<ellipse cx="1317.6" cy="630.3" rx="9.0" ry="6.3" transform="rotate(0 1317.6 630.3)" fill="#EE5010" stroke="#111" stroke-width="2"/>
<polygon points="1261.7,682.6 1290.5,664.5 1306.8,675.4 1276.1,695.2" fill="#E8E8FA" stroke="#111" stroke-width="2.5" />
<polygon points="1257.1,673.6 1286.9,655.5 1303.2,668.2 1274.3,686.2" fill="#E8E8FA" stroke="#111" stroke-width="2.5" />
<polygon points="1323.0,673.6 1366.4,655.5 1386.2,670.0 1341.1,693.4" fill="#E8E8FA" stroke="#111" stroke-width="2.5" />
<polygon points="1337.5,662.7 1366.4,653.7 1373.6,662.7 1341.1,670.0" fill="#E8E8FA" stroke="#111" stroke-width="2.5" />
<polygon points="1348.3,677.2 1370.0,673.6 1391.6,706.1 1393.4,733.1 1380.8,733.1 1355.5,697.0" fill="#E8E8FA" stroke="#111" stroke-width="2.5" />
<polygon points="1353.7,725.9 1366.4,711.5 1373.6,720.5 1366.4,738.6" fill="#E8E8FA" stroke="#111" stroke-width="2.5" />
<polygon points="1388.0,700.6 1402.5,695.2 1420.5,718.7 1402.5,727.7" fill="#E8E8FA" stroke="#111" stroke-width="2.5" />
<polygon points="1418.7,727.7 1434.9,722.3 1445.8,733.1 1427.7,742.2" fill="#EE5010" stroke="#111" stroke-width="2.5" />
<polygon points="1418.7,727.7 1427.7,742.2 1429.5,745.8 1420.5,734.9" fill="#EE5010" stroke="#111" stroke-width="2.5" />
<ellipse cx="1453.0" cy="722.3" rx="2.5" ry="3.2" transform="rotate(0 1453.0 722.3)" fill="none" stroke="#111" stroke-width="2"/>
<ellipse cx="1458.8" cy="719.1" rx="2.5" ry="3.2" transform="rotate(0 1458.8 719.1)" fill="none" stroke="#111" stroke-width="2"/>
<ellipse cx="1464.5" cy="715.8" rx="2.5" ry="3.2" transform="rotate(0 1464.5 715.8)" fill="none" stroke="#111" stroke-width="2"/>
<ellipse cx="1470.3" cy="712.6" rx="2.5" ry="3.2" transform="rotate(0 1470.3 712.6)" fill="none" stroke="#111" stroke-width="2"/>
<ellipse cx="1476.1" cy="709.3" rx="2.5" ry="3.2" transform="rotate(0 1476.1 709.3)" fill="none" stroke="#111" stroke-width="2"/>
<ellipse cx="1481.9" cy="706.1" rx="2.5" ry="3.2" transform="rotate(0 1481.9 706.1)" fill="none" stroke="#111" stroke-width="2"/>
<ellipse cx="1487.7" cy="702.8" rx="2.5" ry="3.2" transform="rotate(0 1487.7 702.8)" fill="none" stroke="#111" stroke-width="2"/>
<polygon points="1416.9,754.8 1447.6,738.6 1456.6,762.0 1425.9,781.9" fill="#E8E8FA" stroke="#111" stroke-width="2.5" />
<polygon points="1415.1,745.8 1444.0,736.8 1454.8,758.4 1422.3,772.9" fill="#E8E8FA" stroke="#111" stroke-width="2.5" />
<polygon points="1490.9,688.0 1501.7,662.7 1516.2,659.1 1521.6,675.4 1505.3,698.8 1492.7,700.6" fill="#EE5010" stroke="#111" stroke-width="2.5" />
<polygon points="1362.0,617.2 1381.5,617.2 1382.6,657.2 1363.1,657.2" fill="#F0B0A8" stroke="#111" stroke-width="2.5" />
<polyline points="1342.5,630.1 1366.3,624.7" fill="none" stroke="#111" stroke-width="2.5"/>
<ellipse cx="1370.1" cy="593.9" rx="24.4" ry="25.5" transform="rotate(0 1370.1 593.9)" fill="#fff" stroke="#111" stroke-width="2.5"/>
<path d="M1380.4 578.2 Q1385.8 566.2 1398.8 571.7 Q1402.0 582.5 1395.5 590.1 L1382.6 585.7 Z" fill="#EE8C7E" stroke="#111" stroke-width="2.5"/>
<path d="M1355.5 564.1 Q1372.8 551.1 1385.8 574.9" fill="none" stroke="#111" stroke-width="2.2"/>
<path d="M1360.9 561.4 Q1377.1 550.0 1389.0 573.8" fill="none" stroke="#111" stroke-width="2.2"/>
<path d="M1366.3 558.7 Q1381.5 548.9 1392.3 572.7" fill="none" stroke="#111" stroke-width="2.2"/>
<path d="M1371.7 556.0 Q1385.8 547.8 1395.5 571.7" fill="none" stroke="#111" stroke-width="2.2"/>
<ellipse cx="1389.6" cy="597.1" rx="4.9" ry="4.9" transform="rotate(0 1389.6 597.1)" fill="#fff" stroke="#111" stroke-width="2.2"/>
<ellipse cx="1340.3" cy="588.4" rx="5.4" ry="6.0" transform="rotate(-20 1340.3 588.4)" fill="#E8E8FA" stroke="#111" stroke-width="2.2"/>
<polyline points="1328.4,603.1 1351.1,595.5" fill="none" stroke="#111" stroke-width="9"/>
<polyline points="1328.4,603.1 1351.1,595.5" fill="none" stroke="#fff" stroke-width="4.5"/>
<ellipse cx="1360.9" cy="600.9" rx="7.6" ry="9.7" transform="rotate(0 1360.9 600.9)" fill="#E8E8FA" stroke="#111" stroke-width="2.5"/>
<polyline points="1368.5,597.7 1384.7,591.2" fill="none" stroke="#111" stroke-width="2"/>
<ellipse cx="1431.3" cy="601.4" rx="21.7" ry="27.1" transform="rotate(0 1431.3 601.4)" fill="#fff" stroke="#111" stroke-width="2.5"/>
<path d="M1418.7 581.5 Q1424.1 563.5 1447.6 567.1 Q1467.4 576.1 1460.2 597.8 L1444.0 615.8 Q1438.6 590.5 1418.7 581.5 Z" fill="#F0B0A8" stroke="#111" stroke-width="2.5"/>
<ellipse cx="1453.0" cy="615.8" rx="6.3" ry="6.3" transform="rotate(0 1453.0 615.8)" fill="#fff" stroke="#111" stroke-width="2.5"/>
<polygon points="1389.8,641.1 1406.1,633.9 1420.5,648.3 1413.3,659.1 1391.6,653.7" fill="#E8E8FA" stroke="#111" stroke-width="2.5" />
<ellipse cx="1469.2" cy="657.3" rx="27.1" ry="26.2" transform="rotate(0 1469.2 657.3)" fill="#fff" stroke="#111" stroke-width="2.5"/>
<path d="M1492.7 641.1 Q1496.3 619.4 1510.8 624.8 Q1505.3 633.9 1514.4 644.7 Q1503.5 648.3 1492.7 641.1 Z" fill="#EE5010" stroke="#111" stroke-width="2.5"/>
<ellipse cx="1490.9" cy="659.1" rx="5.4" ry="6.3" transform="rotate(0 1490.9 659.1)" fill="#fff" stroke="#111" stroke-width="2.5"/>
</g>

<path d="M0 1219 L1230 1224.3 L2461 1229.5" fill="none" stroke="#111" stroke-width="3.4"/>

<g id="labels">
<text transform="translate(624.0 155.3) scale(0.897 1.000)" font-family="Liberation Sans, sans-serif" font-size="34.9" fill="#111" stroke="#111" stroke-width="0.90">D</text><text transform="translate(646.6 155.3) scale(0.897 0.740)" font-family="Liberation Sans, sans-serif" font-size="34.9" fill="#111" stroke="#111" stroke-width="0.90">é</text><text transform="translate(664.0 155.3) scale(0.897 0.740)" font-family="Liberation Sans, sans-serif" font-size="34.9" fill="#111" stroke="#111" stroke-width="0.90">p</text><text transform="translate(681.4 155.3) scale(0.897 0.740)" font-family="Liberation Sans, sans-serif" font-size="34.9" fill="#111" stroke="#111" stroke-width="0.90">a</text><text transform="translate(698.9 155.3) scale(0.897 0.740)" font-family="Liberation Sans, sans-serif" font-size="34.9" fill="#111" stroke="#111" stroke-width="0.90">r</text><text transform="translate(709.3 155.3) scale(0.897 0.900)" font-family="Liberation Sans, sans-serif" font-size="34.9" fill="#111" stroke="#111" stroke-width="0.90">t</text><text transform="translate(718.0 155.3) scale(0.897 0.740)" font-family="Liberation Sans, sans-serif" font-size="34.9" fill="#111" stroke="#111" stroke-width="0.90">e</text><text transform="translate(735.4 155.3) scale(0.897 0.740)" font-family="Liberation Sans, sans-serif" font-size="34.9" fill="#111" stroke="#111" stroke-width="0.90">m</text><text transform="translate(761.5 155.3) scale(0.897 0.740)" font-family="Liberation Sans, sans-serif" font-size="34.9" fill="#111" stroke="#111" stroke-width="0.90">e</text><text transform="translate(778.9 155.3) scale(0.897 0.740)" font-family="Liberation Sans, sans-serif" font-size="34.9" fill="#111" stroke="#111" stroke-width="0.90">n</text><text transform="translate(796.3 155.3) scale(0.897 0.900)" font-family="Liberation Sans, sans-serif" font-size="34.9" fill="#111" stroke="#111" stroke-width="0.90">t</text>
<text transform="translate(594.0 193.1) scale(1.000 0.900)" font-family="Liberation Sans, sans-serif" font-size="33.5" fill="#111" stroke="#111" stroke-width="0.90">d</text><text transform="translate(613.2 193.1) scale(1.000 0.740)" font-family="Liberation Sans, sans-serif" font-size="33.5" fill="#111" stroke="#111" stroke-width="0.90">e</text><text transform="translate(641.9 193.1) scale(1.000 1.000)" font-family="Liberation Sans, sans-serif" font-size="33.5" fill="#111" stroke="#111" stroke-width="0.90">L</text><text transform="translate(661.1 193.1) scale(1.000 1.000)" font-family="Liberation Sans, sans-serif" font-size="33.5" fill="#111" stroke="#111" stroke-width="0.90">’</text><text transform="translate(668.8 193.1) scale(1.000 0.800)" font-family="Liberation Sans, sans-serif" font-size="33.5" fill="#111" stroke="#111" stroke-width="0.90">i</text><text transform="translate(676.5 193.1) scale(1.000 0.740)" font-family="Liberation Sans, sans-serif" font-size="33.5" fill="#111" stroke="#111" stroke-width="0.90">n</text><text transform="translate(695.6 193.1) scale(1.000 0.740)" font-family="Liberation Sans, sans-serif" font-size="33.5" fill="#111" stroke="#111" stroke-width="0.90">s</text><text transform="translate(712.9 193.1) scale(1.000 0.900)" font-family="Liberation Sans, sans-serif" font-size="33.5" fill="#111" stroke="#111" stroke-width="0.90">t</text><text transform="translate(722.5 193.1) scale(1.000 0.740)" font-family="Liberation Sans, sans-serif" font-size="33.5" fill="#111" stroke="#111" stroke-width="0.90">r</text><text transform="translate(734.0 193.1) scale(1.000 0.740)" font-family="Liberation Sans, sans-serif" font-size="33.5" fill="#111" stroke="#111" stroke-width="0.90">u</text><text transform="translate(753.1 193.1) scale(1.000 0.740)" font-family="Liberation Sans, sans-serif" font-size="33.5" fill="#111" stroke="#111" stroke-width="0.90">c</text><text transform="translate(770.4 193.1) scale(1.000 0.900)" font-family="Liberation Sans, sans-serif" font-size="33.5" fill="#111" stroke="#111" stroke-width="0.90">t</text><text transform="translate(780.0 193.1) scale(1.000 0.800)" font-family="Liberation Sans, sans-serif" font-size="33.5" fill="#111" stroke="#111" stroke-width="0.90">i</text><text transform="translate(787.6 193.1) scale(1.000 0.740)" font-family="Liberation Sans, sans-serif" font-size="33.5" fill="#111" stroke="#111" stroke-width="0.90">o</text><text transform="translate(806.8 193.1) scale(1.000 0.740)" font-family="Liberation Sans, sans-serif" font-size="33.5" fill="#111" stroke="#111" stroke-width="0.90">n</text>
<text transform="translate(1384.5 170.3) scale(0.849 1.000)" font-family="Liberation Sans, sans-serif" font-size="34.9" fill="#111" stroke="#111" stroke-width="0.90">D</text><text transform="translate(1405.9 170.3) scale(0.849 0.740)" font-family="Liberation Sans, sans-serif" font-size="34.9" fill="#111" stroke="#111" stroke-width="0.90">é</text><text transform="translate(1422.4 170.3) scale(0.849 0.740)" font-family="Liberation Sans, sans-serif" font-size="34.9" fill="#111" stroke="#111" stroke-width="0.90">p</text><text transform="translate(1438.9 170.3) scale(0.849 0.740)" font-family="Liberation Sans, sans-serif" font-size="34.9" fill="#111" stroke="#111" stroke-width="0.90">a</text><text transform="translate(1455.3 170.3) scale(0.849 0.740)" font-family="Liberation Sans, sans-serif" font-size="34.9" fill="#111" stroke="#111" stroke-width="0.90">r</text><text transform="translate(1465.2 170.3) scale(0.849 0.900)" font-family="Liberation Sans, sans-serif" font-size="34.9" fill="#111" stroke="#111" stroke-width="0.90">t</text><text transform="translate(1473.4 170.3) scale(0.849 0.740)" font-family="Liberation Sans, sans-serif" font-size="34.9" fill="#111" stroke="#111" stroke-width="0.90">e</text><text transform="translate(1489.9 170.3) scale(0.849 0.740)" font-family="Liberation Sans, sans-serif" font-size="34.9" fill="#111" stroke="#111" stroke-width="0.90">m</text><text transform="translate(1514.6 170.3) scale(0.849 0.740)" font-family="Liberation Sans, sans-serif" font-size="34.9" fill="#111" stroke="#111" stroke-width="0.90">e</text><text transform="translate(1531.1 170.3) scale(0.849 0.740)" font-family="Liberation Sans, sans-serif" font-size="34.9" fill="#111" stroke="#111" stroke-width="0.90">n</text><text transform="translate(1547.6 170.3) scale(0.849 0.900)" font-family="Liberation Sans, sans-serif" font-size="34.9" fill="#111" stroke="#111" stroke-width="0.90">t</text>
<text transform="translate(1380.0 209.3) scale(0.921 0.900)" font-family="Liberation Sans, sans-serif" font-size="33.5" fill="#111" stroke="#111" stroke-width="0.90">d</text><text transform="translate(1397.2 209.3) scale(0.921 0.740)" font-family="Liberation Sans, sans-serif" font-size="33.5" fill="#111" stroke="#111" stroke-width="0.90">e</text><text transform="translate(1422.9 209.3) scale(0.921 0.900)" font-family="Liberation Sans, sans-serif" font-size="33.5" fill="#111" stroke="#111" stroke-width="0.90">l</text><text transform="translate(1429.8 209.3) scale(0.921 0.740)" font-family="Liberation Sans, sans-serif" font-size="33.5" fill="#111" stroke="#111" stroke-width="0.90">a</text><text transform="translate(1455.5 209.3) scale(0.921 0.740)" font-family="Liberation Sans, sans-serif" font-size="33.5" fill="#111" stroke="#111" stroke-width="0.90">s</text><text transform="translate(1470.9 209.3) scale(0.921 0.740)" font-family="Liberation Sans, sans-serif" font-size="33.5" fill="#111" stroke="#111" stroke-width="0.90">a</text><text transform="translate(1488.1 209.3) scale(0.921 0.740)" font-family="Liberation Sans, sans-serif" font-size="33.5" fill="#111" stroke="#111" stroke-width="0.90">n</text><text transform="translate(1505.3 209.3) scale(0.921 0.900)" font-family="Liberation Sans, sans-serif" font-size="33.5" fill="#111" stroke="#111" stroke-width="0.90">t</text><text transform="translate(1513.8 209.3) scale(0.921 0.740)" font-family="Liberation Sans, sans-serif" font-size="33.5" fill="#111" stroke="#111" stroke-width="0.90">é</text>
<text transform="translate(1772.7 323.4) scale(0.786 1.000)" font-family="Liberation Sans, sans-serif" font-size="36.3" fill="#111" stroke="#111" stroke-width="0.90">H</text><text transform="translate(1793.3 323.4) scale(0.786 0.740)" font-family="Liberation Sans, sans-serif" font-size="36.3" fill="#111" stroke="#111" stroke-width="0.90">a</text><text transform="translate(1809.2 323.4) scale(0.786 0.740)" font-family="Liberation Sans, sans-serif" font-size="36.3" fill="#111" stroke="#111" stroke-width="0.90">u</text><text transform="translate(1825.1 323.4) scale(0.786 0.900)" font-family="Liberation Sans, sans-serif" font-size="36.3" fill="#111" stroke="#111" stroke-width="0.90">t</text><text transform="translate(1833.0 323.4) scale(0.786 0.740)" font-family="Liberation Sans, sans-serif" font-size="36.3" fill="#111" stroke="#111" stroke-width="0.90">e</text><text transform="translate(1856.8 323.4) scale(0.786 1.000)" font-family="Liberation Sans, sans-serif" font-size="36.3" fill="#111" stroke="#111" stroke-width="0.90">E</text><text transform="translate(1875.8 323.4) scale(0.786 0.740)" font-family="Liberation Sans, sans-serif" font-size="36.3" fill="#111" stroke="#111" stroke-width="0.90">c</text><text transform="translate(1890.1 323.4) scale(0.786 0.740)" font-family="Liberation Sans, sans-serif" font-size="36.3" fill="#111" stroke="#111" stroke-width="0.90">o</text><text transform="translate(1906.0 323.4) scale(0.786 0.900)" font-family="Liberation Sans, sans-serif" font-size="36.3" fill="#111" stroke="#111" stroke-width="0.90">l</text><text transform="translate(1912.3 323.4) scale(0.786 0.740)" font-family="Liberation Sans, sans-serif" font-size="36.3" fill="#111" stroke="#111" stroke-width="0.90">e</text>
<text transform="translate(1768.3 354.1) scale(0.849 1.000)" font-family="Liberation Sans, sans-serif" font-size="33.5" fill="#111" stroke="#111" stroke-width="0.90">P</text><text transform="translate(1787.3 354.1) scale(0.849 0.740)" font-family="Liberation Sans, sans-serif" font-size="33.5" fill="#111" stroke="#111" stroke-width="0.90">é</text><text transform="translate(1803.1 354.1) scale(0.849 0.900)" font-family="Liberation Sans, sans-serif" font-size="33.5" fill="#111" stroke="#111" stroke-width="0.90">d</text><text transform="translate(1818.9 354.1) scale(0.849 0.740)" font-family="Liberation Sans, sans-serif" font-size="33.5" fill="#111" stroke="#111" stroke-width="0.90">a</text><text transform="translate(1834.7 354.1) scale(0.849 0.740)" font-family="Liberation Sans, sans-serif" font-size="33.5" fill="#111" stroke="#111" stroke-width="0.90">g</text><text transform="translate(1850.6 354.1) scale(0.849 0.740)" font-family="Liberation Sans, sans-serif" font-size="33.5" fill="#111" stroke="#111" stroke-width="0.90">o</text><text transform="translate(1866.4 354.1) scale(0.849 0.740)" font-family="Liberation Sans, sans-serif" font-size="33.5" fill="#111" stroke="#111" stroke-width="0.90">g</text><text transform="translate(1882.2 354.1) scale(0.849 0.800)" font-family="Liberation Sans, sans-serif" font-size="33.5" fill="#111" stroke="#111" stroke-width="0.90">i</text><text transform="translate(1888.5 354.1) scale(0.849 0.740)" font-family="Liberation Sans, sans-serif" font-size="33.5" fill="#111" stroke="#111" stroke-width="0.90">q</text><text transform="translate(1904.4 354.1) scale(0.849 0.740)" font-family="Liberation Sans, sans-serif" font-size="33.5" fill="#111" stroke="#111" stroke-width="0.90">u</text><text transform="translate(1920.2 354.1) scale(0.849 0.740)" font-family="Liberation Sans, sans-serif" font-size="33.5" fill="#111" stroke="#111" stroke-width="0.90">e</text>
<text transform="translate(1634.4 614.4) scale(1.000 1.000)" font-family="Liberation Sans, sans-serif" font-size="30.7" fill="#111" stroke="#111" stroke-width="0.90">P</text><text transform="translate(1655.6 614.4) scale(1.000 0.740)" font-family="Liberation Sans, sans-serif" font-size="30.7" fill="#111" stroke="#111" stroke-width="0.90">r</text><text transform="translate(1666.2 614.4) scale(1.000 0.740)" font-family="Liberation Sans, sans-serif" font-size="30.7" fill="#111" stroke="#111" stroke-width="0.90">o</text><text transform="translate(1683.9 614.4) scale(1.000 0.740)" font-family="Liberation Sans, sans-serif" font-size="30.7" fill="#111" stroke="#111" stroke-width="0.90">m</text><text transform="translate(1710.4 614.4) scale(1.000 0.740)" font-family="Liberation Sans, sans-serif" font-size="30.7" fill="#111" stroke="#111" stroke-width="0.90">o</text><text transform="translate(1728.0 614.4) scale(1.000 0.900)" font-family="Liberation Sans, sans-serif" font-size="30.7" fill="#111" stroke="#111" stroke-width="0.90">t</text><text transform="translate(1736.9 614.4) scale(1.000 0.800)" font-family="Liberation Sans, sans-serif" font-size="30.7" fill="#111" stroke="#111" stroke-width="0.90">i</text><text transform="translate(1743.9 614.4) scale(1.000 0.740)" font-family="Liberation Sans, sans-serif" font-size="30.7" fill="#111" stroke="#111" stroke-width="0.90">o</text><text transform="translate(1761.6 614.4) scale(1.000 0.740)" font-family="Liberation Sans, sans-serif" font-size="30.7" fill="#111" stroke="#111" stroke-width="0.90">n</text>
<text transform="translate(1611.0 648.6) scale(0.964 1.000)" font-family="Liberation Sans, sans-serif" font-size="29.3" fill="#111" stroke="#111" stroke-width="0.90">S</text><text transform="translate(1629.9 648.6) scale(0.964 0.740)" font-family="Liberation Sans, sans-serif" font-size="29.3" fill="#111" stroke="#111" stroke-width="0.90">a</text><text transform="translate(1645.6 648.6) scale(0.964 0.740)" font-family="Liberation Sans, sans-serif" font-size="29.3" fill="#111" stroke="#111" stroke-width="0.90">n</text><text transform="translate(1661.3 648.6) scale(0.964 0.900)" font-family="Liberation Sans, sans-serif" font-size="29.3" fill="#111" stroke="#111" stroke-width="0.90">t</text><text transform="translate(1669.2 648.6) scale(0.964 0.740)" font-family="Liberation Sans, sans-serif" font-size="29.3" fill="#111" stroke="#111" stroke-width="0.90">é</text><text transform="translate(1692.7 648.6) scale(0.964 1.000)" font-family="Liberation Sans, sans-serif" font-size="29.3" fill="#111" stroke="#111" stroke-width="0.90">V</text><text transform="translate(1711.6 648.6) scale(0.964 1.000)" font-family="Liberation Sans, sans-serif" font-size="29.3" fill="#111" stroke="#111" stroke-width="0.90">A</text><text transform="translate(1730.5 648.6) scale(0.964 1.000)" font-family="Liberation Sans, sans-serif" font-size="29.3" fill="#111" stroke="#111" stroke-width="0.90">L</text><text transform="translate(1746.2 648.6) scale(0.964 1.000)" font-family="Liberation Sans, sans-serif" font-size="29.3" fill="#111" stroke="#111" stroke-width="0.90">A</text><text transform="translate(1765.1 648.6) scale(0.964 0.800)" font-family="Liberation Sans, sans-serif" font-size="29.3" fill="#111" stroke="#111" stroke-width="0.90">i</text><text transform="translate(1771.3 648.6) scale(0.964 1.000)" font-family="Liberation Sans, sans-serif" font-size="29.3" fill="#111" stroke="#111" stroke-width="0.90">S</text>
<text transform="translate(498.0 1270.2) scale(1.000 1.000)" font-family="Liberation Sans, sans-serif" font-size="25.1" fill="#111" stroke="#111" stroke-width="0.90">É</text><text transform="translate(515.8 1270.2) scale(1.000 1.000)" font-family="Liberation Sans, sans-serif" font-size="25.1" fill="#111" stroke="#111" stroke-width="0.90">C</text><text transform="translate(535.1 1270.2) scale(1.000 0.800)" font-family="Liberation Sans, sans-serif" font-size="25.1" fill="#111" stroke="#111" stroke-width="0.90">o</text><text transform="translate(550.0 1270.2) scale(1.000 1.000)" font-family="Liberation Sans, sans-serif" font-size="25.1" fill="#111" stroke="#111" stroke-width="0.90">L</text><text transform="translate(564.9 1270.2) scale(1.000 0.800)" font-family="Liberation Sans, sans-serif" font-size="25.1" fill="#111" stroke="#111" stroke-width="0.90">e</text><text transform="translate(579.8 1270.2) scale(1.000 1.000)" font-family="Liberation Sans, sans-serif" font-size="25.1" fill="#111" stroke="#111" stroke-width="0.90">S</text>
<text transform="translate(468.3 1300.7) scale(1.000 1.000)" font-family="Liberation Sans, sans-serif" font-size="29.3" fill="#111" stroke="#111" stroke-width="0.90">P</text><text transform="translate(491.2 1300.7) scale(1.000 0.800)" font-family="Liberation Sans, sans-serif" font-size="29.3" fill="#111" stroke="#111" stroke-width="0.90">r</text><text transform="translate(502.7 1300.7) scale(1.000 0.800)" font-family="Liberation Sans, sans-serif" font-size="29.3" fill="#111" stroke="#111" stroke-width="0.90">i</text><text transform="translate(510.3 1300.7) scale(1.000 0.800)" font-family="Liberation Sans, sans-serif" font-size="29.3" fill="#111" stroke="#111" stroke-width="0.90">m</text><text transform="translate(538.9 1300.7) scale(1.000 1.000)" font-family="Liberation Sans, sans-serif" font-size="29.3" fill="#111" stroke="#111" stroke-width="0.90">A</text><text transform="translate(561.9 1300.7) scale(1.000 0.800)" font-family="Liberation Sans, sans-serif" font-size="29.3" fill="#111" stroke="#111" stroke-width="0.90">i</text><text transform="translate(569.5 1300.7) scale(1.000 0.800)" font-family="Liberation Sans, sans-serif" font-size="29.3" fill="#111" stroke="#111" stroke-width="0.90">r</text><text transform="translate(580.9 1300.7) scale(1.000 1.000)" font-family="Liberation Sans, sans-serif" font-size="29.3" fill="#111" stroke="#111" stroke-width="0.90">E</text><text transform="translate(603.9 1300.7) scale(1.000 1.000)" font-family="Liberation Sans, sans-serif" font-size="29.3" fill="#111" stroke="#111" stroke-width="0.90">S</text>
<text transform="translate(1126.4 1272.9) scale(1.000 1.000)" font-family="Liberation Sans, sans-serif" font-size="25.1" fill="#111" stroke="#111" stroke-width="0.90">É</text><text transform="translate(1144.5 1272.9) scale(1.000 1.000)" font-family="Liberation Sans, sans-serif" font-size="25.1" fill="#111" stroke="#111" stroke-width="0.90">C</text><text transform="translate(1164.0 1272.9) scale(1.000 0.800)" font-family="Liberation Sans, sans-serif" font-size="25.1" fill="#111" stroke="#111" stroke-width="0.90">o</text><text transform="translate(1179.1 1272.9) scale(1.000 1.000)" font-family="Liberation Sans, sans-serif" font-size="25.1" fill="#111" stroke="#111" stroke-width="0.90">L</text><text transform="translate(1194.2 1272.9) scale(1.000 0.800)" font-family="Liberation Sans, sans-serif" font-size="25.1" fill="#111" stroke="#111" stroke-width="0.90">e</text><text transform="translate(1209.2 1272.9) scale(1.000 1.000)" font-family="Liberation Sans, sans-serif" font-size="25.1" fill="#111" stroke="#111" stroke-width="0.90">S</text>
<text transform="translate(1076.4 1302.3) scale(1.000 1.000)" font-family="Liberation Sans, sans-serif" font-size="26.5" fill="#111" stroke="#111" stroke-width="0.90">S</text><text transform="translate(1094.6 1302.3) scale(1.000 0.740)" font-family="Liberation Sans, sans-serif" font-size="26.5" fill="#111" stroke="#111" stroke-width="0.90">e</text><text transform="translate(1109.7 1302.3) scale(1.000 1.000)" font-family="Liberation Sans, sans-serif" font-size="26.5" fill="#111" stroke="#111" stroke-width="0.90">C</text><text transform="translate(1129.4 1302.3) scale(1.000 1.000)" font-family="Liberation Sans, sans-serif" font-size="26.5" fill="#111" stroke="#111" stroke-width="0.90">O</text><text transform="translate(1150.6 1302.3) scale(1.000 1.000)" font-family="Liberation Sans, sans-serif" font-size="26.5" fill="#111" stroke="#111" stroke-width="0.90">N</text><text transform="translate(1170.3 1302.3) scale(1.000 1.000)" font-family="Liberation Sans, sans-serif" font-size="26.5" fill="#111" stroke="#111" stroke-width="0.90">D</text><text transform="translate(1190.0 1302.3) scale(1.000 1.000)" font-family="Liberation Sans, sans-serif" font-size="26.5" fill="#111" stroke="#111" stroke-width="0.90">A</text><text transform="translate(1208.2 1302.3) scale(1.000 0.800)" font-family="Liberation Sans, sans-serif" font-size="26.5" fill="#111" stroke="#111" stroke-width="0.90">i</text><text transform="translate(1214.2 1302.3) scale(1.000 1.000)" font-family="Liberation Sans, sans-serif" font-size="26.5" fill="#111" stroke="#111" stroke-width="0.90">R</text><text transform="translate(1233.9 1302.3) scale(1.000 1.000)" font-family="Liberation Sans, sans-serif" font-size="26.5" fill="#111" stroke="#111" stroke-width="0.90">E</text><text transform="translate(1252.1 1302.3) scale(1.000 1.000)" font-family="Liberation Sans, sans-serif" font-size="26.5" fill="#111" stroke="#111" stroke-width="0.90">S</text>
<text transform="translate(1643.0 1269.0) scale(1.000 0.740)" font-family="Liberation Sans, sans-serif" font-size="23.7" fill="#111" stroke="#111" stroke-width="0.90">é</text><text transform="translate(1658.2 1269.0) scale(1.000 1.000)" font-family="Liberation Sans, sans-serif" font-size="23.7" fill="#111" stroke="#111" stroke-width="0.90">C</text><text transform="translate(1678.0 1269.0) scale(1.000 1.000)" font-family="Liberation Sans, sans-serif" font-size="23.7" fill="#111" stroke="#111" stroke-width="0.90">O</text><text transform="translate(1699.3 1269.0) scale(1.000 1.000)" font-family="Liberation Sans, sans-serif" font-size="23.7" fill="#111" stroke="#111" stroke-width="0.90">L</text><text transform="translate(1714.5 1269.0) scale(1.000 1.000)" font-family="Liberation Sans, sans-serif" font-size="23.7" fill="#111" stroke="#111" stroke-width="0.90">E</text><text transform="translate(1732.7 1269.0) scale(1.000 1.000)" font-family="Liberation Sans, sans-serif" font-size="23.7" fill="#111" stroke="#111" stroke-width="0.90">S</text>
<text transform="translate(1609.5 1307.4) scale(0.972 1.000)" font-family="Liberation Sans, sans-serif" font-size="32.1" fill="#111" stroke="#111" stroke-width="0.90">P</text><text transform="translate(1630.3 1307.4) scale(0.972 0.750)" font-family="Liberation Sans, sans-serif" font-size="32.1" fill="#111" stroke="#111" stroke-width="0.90">r</text><text transform="translate(1640.7 1307.4) scale(0.972 0.750)" font-family="Liberation Sans, sans-serif" font-size="32.1" fill="#111" stroke="#111" stroke-width="0.90">o</text><text transform="translate(1658.1 1307.4) scale(0.972 0.900)" font-family="Liberation Sans, sans-serif" font-size="32.1" fill="#111" stroke="#111" stroke-width="0.90">f</text><text transform="translate(1666.8 1307.4) scale(0.972 0.750)" font-family="Liberation Sans, sans-serif" font-size="32.1" fill="#111" stroke="#111" stroke-width="0.90">e</text><text transform="translate(1684.2 1307.4) scale(0.972 0.750)" font-family="Liberation Sans, sans-serif" font-size="32.1" fill="#111" stroke="#111" stroke-width="0.90">s</text><text transform="translate(1699.8 1307.4) scale(0.972 0.750)" font-family="Liberation Sans, sans-serif" font-size="32.1" fill="#111" stroke="#111" stroke-width="0.90">s</text><text transform="translate(1715.4 1307.4) scale(0.972 0.800)" font-family="Liberation Sans, sans-serif" font-size="32.1" fill="#111" stroke="#111" stroke-width="0.90">i</text><text transform="translate(1722.3 1307.4) scale(0.972 0.750)" font-family="Liberation Sans, sans-serif" font-size="32.1" fill="#111" stroke="#111" stroke-width="0.90">o</text><text transform="translate(1739.7 1307.4) scale(0.972 0.750)" font-family="Liberation Sans, sans-serif" font-size="32.1" fill="#111" stroke="#111" stroke-width="0.90">n</text><text transform="translate(1757.1 1307.4) scale(0.972 0.750)" font-family="Liberation Sans, sans-serif" font-size="32.1" fill="#111" stroke="#111" stroke-width="0.90">n</text><text transform="translate(1774.5 1307.4) scale(0.972 1.000)" font-family="Liberation Sans, sans-serif" font-size="32.1" fill="#111" stroke="#111" stroke-width="0.90">E</text><text transform="translate(1795.3 1307.4) scale(0.972 1.000)" font-family="Liberation Sans, sans-serif" font-size="32.1" fill="#111" stroke="#111" stroke-width="0.90">L</text><text transform="translate(1812.7 1307.4) scale(0.972 1.000)" font-family="Liberation Sans, sans-serif" font-size="32.1" fill="#111" stroke="#111" stroke-width="0.90">L</text><text transform="translate(1830.0 1307.4) scale(0.972 1.000)" font-family="Liberation Sans, sans-serif" font-size="32.1" fill="#111" stroke="#111" stroke-width="0.90">E</text><text transform="translate(1850.9 1307.4) scale(0.972 1.000)" font-family="Liberation Sans, sans-serif" font-size="32.1" fill="#111" stroke="#111" stroke-width="0.90">S</text>
<path d="M733 211.4 Q730 250 767.7 272.5" fill="none" stroke="#111" stroke-width="3.2"/>
<polyline points="762.0,253.6 767.7,273.0 748.8,278.8" fill="none" stroke="#111" stroke-width="3.2"/>
<path d="M1445 228.9 Q1440 265 1406.5 281.1" fill="none" stroke="#111" stroke-width="3.2"/>
<polyline points="1414.7,264.1 1406.5,281.1 1422.3,287.4" fill="none" stroke="#111" stroke-width="3.2"/>
<path d="M1807.3 374.6 Q1795 405 1741 403.4" fill="none" stroke="#111" stroke-width="3.2"/>
<polyline points="1756.0,395.0 1741.0,403.4 1748.3,414.6" fill="none" stroke="#111" stroke-width="3.2"/>
<path d="M1637.3 665.1 Q1615 690 1568.8 689.7" fill="none" stroke="#111" stroke-width="3.2"/>
<polyline points="1586.0,678.3 1568.8,689.7 1583.1,702.2" fill="none" stroke="#111" stroke-width="3.2"/>
</g>

</svg>
</body></html>
